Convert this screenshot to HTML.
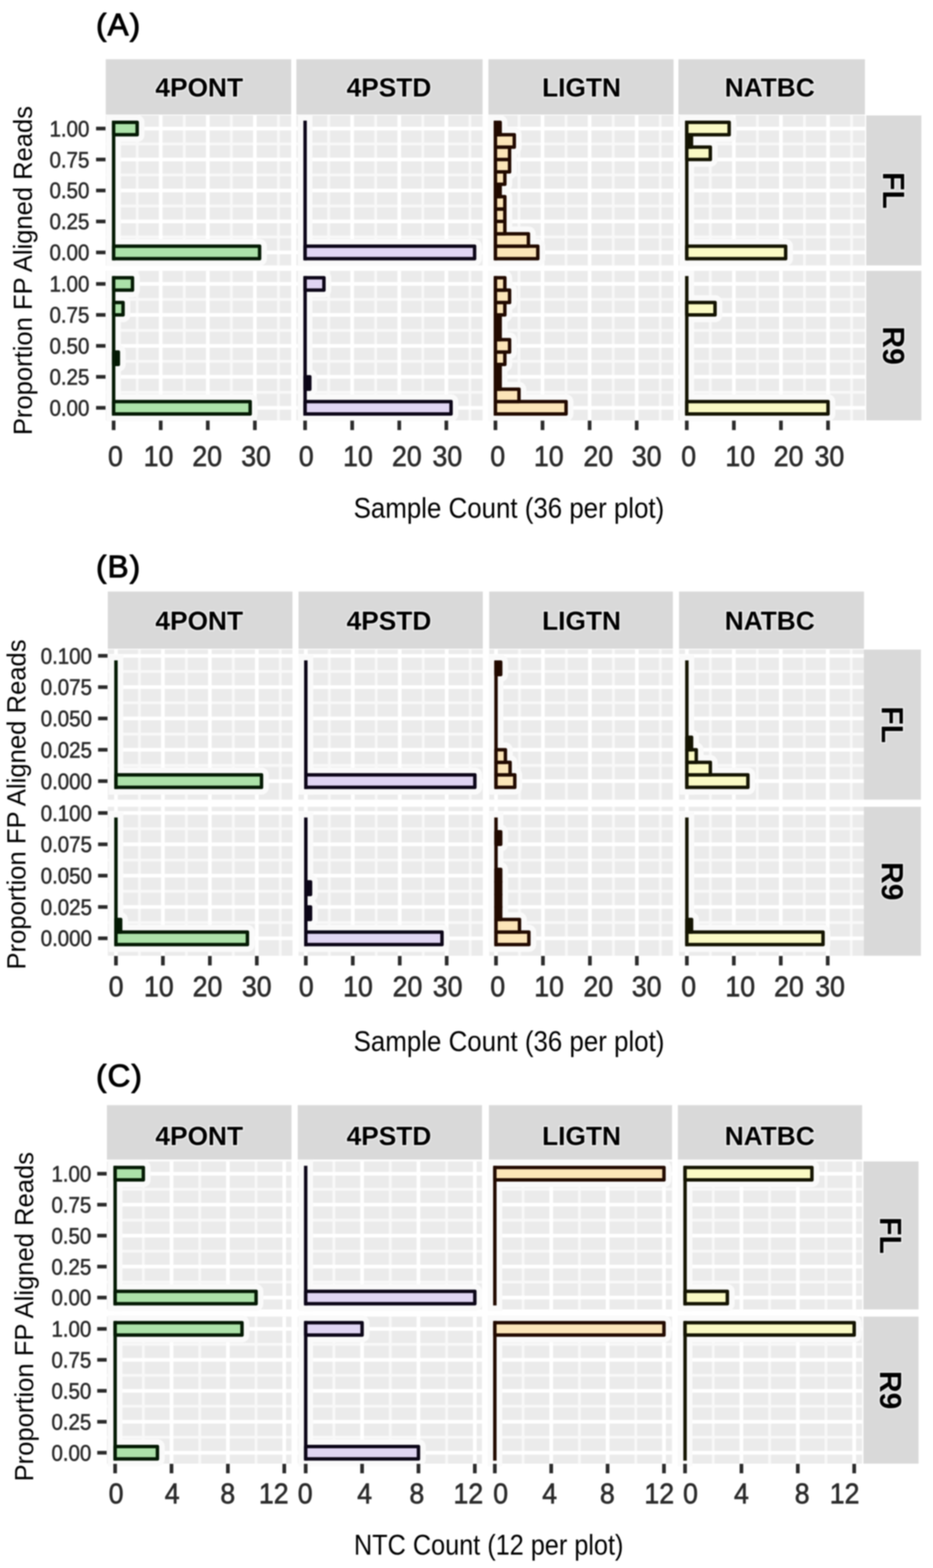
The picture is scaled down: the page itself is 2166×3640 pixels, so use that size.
<!DOCTYPE html>
<html><head><meta charset="utf-8"><title>FP aligned reads histograms</title>
<style>html,body{margin:0;padding:0;background:#fff;}svg{display:block;filter:blur(1.4px);}</style></head>
<body>
<svg width="2166" height="3640" viewBox="0 0 2166 3640">
<rect width="2166" height="3640" fill="#fff"/>
<text x="223" y="82" font-family="'Liberation Sans', Arial, Helvetica, sans-serif" font-size="73" stroke="#000" stroke-width="2.2" stroke-linejoin="round" letter-spacing="2.5">(A)</text>
<rect x="245.5" y="137.5" width="430.5" height="128.5" fill="#D9D9D9"/>
<text x="462.5" y="224.34" text-anchor="middle" font-family="'Liberation Sans', Arial, Helvetica, sans-serif" font-weight="bold" font-size="61" stroke="#E9E9E9" stroke-width="7" stroke-linejoin="round" paint-order="stroke">4PONT</text>
<rect x="688" y="137.5" width="432.4" height="128.5" fill="#D9D9D9"/>
<text x="903" y="224.34" text-anchor="middle" font-family="'Liberation Sans', Arial, Helvetica, sans-serif" font-weight="bold" font-size="61" stroke="#E9E9E9" stroke-width="7" stroke-linejoin="round" paint-order="stroke">4PSTD</text>
<rect x="1133.9" y="137.5" width="429.7" height="128.5" fill="#D9D9D9"/>
<text x="1350" y="224.34" text-anchor="middle" font-family="'Liberation Sans', Arial, Helvetica, sans-serif" font-weight="bold" font-size="61" stroke="#E9E9E9" stroke-width="7" stroke-linejoin="round" paint-order="stroke">LIGTN</text>
<rect x="1575" y="137.5" width="433" height="128.5" fill="#D9D9D9"/>
<text x="1787" y="224.34" text-anchor="middle" font-family="'Liberation Sans', Arial, Helvetica, sans-serif" font-weight="bold" font-size="61" stroke="#E9E9E9" stroke-width="7" stroke-linejoin="round" paint-order="stroke">NATBC</text>
<rect x="245.5" y="268" width="430.5" height="348.2" fill="#EBEBEB"/>
<path d="M245.5 550.05H676" stroke="#F8F8F8" stroke-width="6.5"/>
<path d="M245.5 478.15H676" stroke="#F8F8F8" stroke-width="6.5"/>
<path d="M245.5 406.25H676" stroke="#F8F8F8" stroke-width="6.5"/>
<path d="M245.5 334.35H676" stroke="#F8F8F8" stroke-width="6.5"/>
<path d="M318.45 268V616.2" stroke="#F8F8F8" stroke-width="6.5"/>
<path d="M427.75 268V616.2" stroke="#F8F8F8" stroke-width="6.5"/>
<path d="M537.05 268V616.2" stroke="#F8F8F8" stroke-width="6.5"/>
<path d="M646.35 268V616.2" stroke="#F8F8F8" stroke-width="6.5"/>
<path d="M245.5 586H676" stroke="#fff" stroke-width="8.5"/>
<path d="M245.5 514.1H676" stroke="#fff" stroke-width="8.5"/>
<path d="M245.5 442.2H676" stroke="#fff" stroke-width="8.5"/>
<path d="M245.5 370.3H676" stroke="#fff" stroke-width="8.5"/>
<path d="M245.5 298.4H676" stroke="#fff" stroke-width="8.5"/>
<path d="M263.8 268V616.2" stroke="#fff" stroke-width="8.5"/>
<path d="M373.1 268V616.2" stroke="#fff" stroke-width="8.5"/>
<path d="M482.4 268V616.2" stroke="#fff" stroke-width="8.5"/>
<path d="M591.7 268V616.2" stroke="#fff" stroke-width="8.5"/>
<path d="M263.8 284.02V600.38" stroke="#FAFAFA" stroke-width="34" stroke-linecap="square"/>
<rect x="263.8" y="571.62" width="338.83" height="28.76" fill="none" stroke="#FAFAFA" stroke-width="34" stroke-linejoin="round"/>
<rect x="263.8" y="284.02" width="54.65" height="28.76" fill="none" stroke="#FAFAFA" stroke-width="34" stroke-linejoin="round"/>
<path d="M263.8 284.02V600.38" stroke="#041a04" stroke-width="8" stroke-linecap="square"/>
<rect x="263.8" y="571.62" width="338.83" height="28.76" fill="#ACE2A9" stroke="#041a04" stroke-width="8" stroke-linejoin="round"/>
<rect x="263.8" y="284.02" width="54.65" height="28.76" fill="#ACE2A9" stroke="#041a04" stroke-width="8" stroke-linejoin="round"/>
<rect x="688" y="268" width="432.4" height="348.2" fill="#EBEBEB"/>
<path d="M688 550.05H1120.4" stroke="#F8F8F8" stroke-width="6.5"/>
<path d="M688 478.15H1120.4" stroke="#F8F8F8" stroke-width="6.5"/>
<path d="M688 406.25H1120.4" stroke="#F8F8F8" stroke-width="6.5"/>
<path d="M688 334.35H1120.4" stroke="#F8F8F8" stroke-width="6.5"/>
<path d="M762.95 268V616.2" stroke="#F8F8F8" stroke-width="6.5"/>
<path d="M872.25 268V616.2" stroke="#F8F8F8" stroke-width="6.5"/>
<path d="M981.55 268V616.2" stroke="#F8F8F8" stroke-width="6.5"/>
<path d="M1090.85 268V616.2" stroke="#F8F8F8" stroke-width="6.5"/>
<path d="M688 586H1120.4" stroke="#fff" stroke-width="8.5"/>
<path d="M688 514.1H1120.4" stroke="#fff" stroke-width="8.5"/>
<path d="M688 442.2H1120.4" stroke="#fff" stroke-width="8.5"/>
<path d="M688 370.3H1120.4" stroke="#fff" stroke-width="8.5"/>
<path d="M688 298.4H1120.4" stroke="#fff" stroke-width="8.5"/>
<path d="M708.3 268V616.2" stroke="#fff" stroke-width="8.5"/>
<path d="M817.6 268V616.2" stroke="#fff" stroke-width="8.5"/>
<path d="M926.9 268V616.2" stroke="#fff" stroke-width="8.5"/>
<path d="M1036.2 268V616.2" stroke="#fff" stroke-width="8.5"/>
<path d="M708.3 284.02V600.38" stroke="#FAFAFA" stroke-width="34" stroke-linecap="square"/>
<rect x="708.3" y="571.62" width="393.48" height="28.76" fill="none" stroke="#FAFAFA" stroke-width="34" stroke-linejoin="round"/>
<path d="M708.3 284.02V600.38" stroke="#0c0618" stroke-width="8" stroke-linecap="square"/>
<rect x="708.3" y="571.62" width="393.48" height="28.76" fill="#E0D5F3" stroke="#0c0618" stroke-width="8" stroke-linejoin="round"/>
<rect x="1133.9" y="268" width="429.7" height="348.2" fill="#EBEBEB"/>
<path d="M1133.9 550.05H1563.6" stroke="#F8F8F8" stroke-width="6.5"/>
<path d="M1133.9 478.15H1563.6" stroke="#F8F8F8" stroke-width="6.5"/>
<path d="M1133.9 406.25H1563.6" stroke="#F8F8F8" stroke-width="6.5"/>
<path d="M1133.9 334.35H1563.6" stroke="#F8F8F8" stroke-width="6.5"/>
<path d="M1204.85 268V616.2" stroke="#F8F8F8" stroke-width="6.5"/>
<path d="M1314.15 268V616.2" stroke="#F8F8F8" stroke-width="6.5"/>
<path d="M1423.45 268V616.2" stroke="#F8F8F8" stroke-width="6.5"/>
<path d="M1532.75 268V616.2" stroke="#F8F8F8" stroke-width="6.5"/>
<path d="M1133.9 586H1563.6" stroke="#fff" stroke-width="8.5"/>
<path d="M1133.9 514.1H1563.6" stroke="#fff" stroke-width="8.5"/>
<path d="M1133.9 442.2H1563.6" stroke="#fff" stroke-width="8.5"/>
<path d="M1133.9 370.3H1563.6" stroke="#fff" stroke-width="8.5"/>
<path d="M1133.9 298.4H1563.6" stroke="#fff" stroke-width="8.5"/>
<path d="M1150.2 268V616.2" stroke="#fff" stroke-width="8.5"/>
<path d="M1259.5 268V616.2" stroke="#fff" stroke-width="8.5"/>
<path d="M1368.8 268V616.2" stroke="#fff" stroke-width="8.5"/>
<path d="M1478.1 268V616.2" stroke="#fff" stroke-width="8.5"/>
<path d="M1150.2 284.02V600.38" stroke="#FAFAFA" stroke-width="34" stroke-linecap="square"/>
<rect x="1150.2" y="571.62" width="98.37" height="28.76" fill="none" stroke="#FAFAFA" stroke-width="34" stroke-linejoin="round"/>
<rect x="1150.2" y="542.86" width="76.51" height="28.76" fill="none" stroke="#FAFAFA" stroke-width="34" stroke-linejoin="round"/>
<rect x="1150.2" y="514.1" width="21.86" height="28.76" fill="none" stroke="#FAFAFA" stroke-width="34" stroke-linejoin="round"/>
<rect x="1150.2" y="485.34" width="21.86" height="28.76" fill="none" stroke="#FAFAFA" stroke-width="34" stroke-linejoin="round"/>
<rect x="1150.2" y="456.58" width="21.86" height="28.76" fill="none" stroke="#FAFAFA" stroke-width="34" stroke-linejoin="round"/>
<rect x="1150.2" y="427.82" width="10.93" height="28.76" fill="none" stroke="#FAFAFA" stroke-width="34" stroke-linejoin="round"/>
<rect x="1150.2" y="399.06" width="21.86" height="28.76" fill="none" stroke="#FAFAFA" stroke-width="34" stroke-linejoin="round"/>
<rect x="1150.2" y="370.3" width="32.79" height="28.76" fill="none" stroke="#FAFAFA" stroke-width="34" stroke-linejoin="round"/>
<rect x="1150.2" y="341.54" width="32.79" height="28.76" fill="none" stroke="#FAFAFA" stroke-width="34" stroke-linejoin="round"/>
<rect x="1150.2" y="312.78" width="43.72" height="28.76" fill="none" stroke="#FAFAFA" stroke-width="34" stroke-linejoin="round"/>
<rect x="1150.2" y="284.02" width="10.93" height="28.76" fill="none" stroke="#FAFAFA" stroke-width="34" stroke-linejoin="round"/>
<path d="M1150.2 284.02V600.38" stroke="#220a00" stroke-width="8" stroke-linecap="square"/>
<rect x="1150.2" y="571.62" width="98.37" height="28.76" fill="#FCE5B8" stroke="#220a00" stroke-width="8" stroke-linejoin="round"/>
<rect x="1150.2" y="542.86" width="76.51" height="28.76" fill="#FCE5B8" stroke="#220a00" stroke-width="8" stroke-linejoin="round"/>
<rect x="1150.2" y="514.1" width="21.86" height="28.76" fill="#FCE5B8" stroke="#220a00" stroke-width="8" stroke-linejoin="round"/>
<rect x="1150.2" y="485.34" width="21.86" height="28.76" fill="#FCE5B8" stroke="#220a00" stroke-width="8" stroke-linejoin="round"/>
<rect x="1150.2" y="456.58" width="21.86" height="28.76" fill="#FCE5B8" stroke="#220a00" stroke-width="8" stroke-linejoin="round"/>
<rect x="1150.2" y="427.82" width="10.93" height="28.76" fill="#220a00" stroke="#220a00" stroke-width="8" stroke-linejoin="round"/>
<rect x="1150.2" y="399.06" width="21.86" height="28.76" fill="#FCE5B8" stroke="#220a00" stroke-width="8" stroke-linejoin="round"/>
<rect x="1150.2" y="370.3" width="32.79" height="28.76" fill="#FCE5B8" stroke="#220a00" stroke-width="8" stroke-linejoin="round"/>
<rect x="1150.2" y="341.54" width="32.79" height="28.76" fill="#FCE5B8" stroke="#220a00" stroke-width="8" stroke-linejoin="round"/>
<rect x="1150.2" y="312.78" width="43.72" height="28.76" fill="#FCE5B8" stroke="#220a00" stroke-width="8" stroke-linejoin="round"/>
<rect x="1150.2" y="284.02" width="10.93" height="28.76" fill="#220a00" stroke="#220a00" stroke-width="8" stroke-linejoin="round"/>
<rect x="1575" y="268" width="433" height="348.2" fill="#EBEBEB"/>
<path d="M1575 550.05H2008" stroke="#F8F8F8" stroke-width="6.5"/>
<path d="M1575 478.15H2008" stroke="#F8F8F8" stroke-width="6.5"/>
<path d="M1575 406.25H2008" stroke="#F8F8F8" stroke-width="6.5"/>
<path d="M1575 334.35H2008" stroke="#F8F8F8" stroke-width="6.5"/>
<path d="M1649.05 268V616.2" stroke="#F8F8F8" stroke-width="6.5"/>
<path d="M1758.35 268V616.2" stroke="#F8F8F8" stroke-width="6.5"/>
<path d="M1867.65 268V616.2" stroke="#F8F8F8" stroke-width="6.5"/>
<path d="M1976.95 268V616.2" stroke="#F8F8F8" stroke-width="6.5"/>
<path d="M1575 586H2008" stroke="#fff" stroke-width="8.5"/>
<path d="M1575 514.1H2008" stroke="#fff" stroke-width="8.5"/>
<path d="M1575 442.2H2008" stroke="#fff" stroke-width="8.5"/>
<path d="M1575 370.3H2008" stroke="#fff" stroke-width="8.5"/>
<path d="M1575 298.4H2008" stroke="#fff" stroke-width="8.5"/>
<path d="M1594.4 268V616.2" stroke="#fff" stroke-width="8.5"/>
<path d="M1703.7 268V616.2" stroke="#fff" stroke-width="8.5"/>
<path d="M1813 268V616.2" stroke="#fff" stroke-width="8.5"/>
<path d="M1922.3 268V616.2" stroke="#fff" stroke-width="8.5"/>
<path d="M1594.4 284.02V600.38" stroke="#FAFAFA" stroke-width="34" stroke-linecap="square"/>
<rect x="1594.4" y="571.62" width="229.53" height="28.76" fill="none" stroke="#FAFAFA" stroke-width="34" stroke-linejoin="round"/>
<rect x="1594.4" y="341.54" width="54.65" height="28.76" fill="none" stroke="#FAFAFA" stroke-width="34" stroke-linejoin="round"/>
<rect x="1594.4" y="312.78" width="10.93" height="28.76" fill="none" stroke="#FAFAFA" stroke-width="34" stroke-linejoin="round"/>
<rect x="1594.4" y="284.02" width="98.37" height="28.76" fill="none" stroke="#FAFAFA" stroke-width="34" stroke-linejoin="round"/>
<path d="M1594.4 284.02V600.38" stroke="#141402" stroke-width="8" stroke-linecap="square"/>
<rect x="1594.4" y="571.62" width="229.53" height="28.76" fill="#FAFAC4" stroke="#141402" stroke-width="8" stroke-linejoin="round"/>
<rect x="1594.4" y="341.54" width="54.65" height="28.76" fill="#FAFAC4" stroke="#141402" stroke-width="8" stroke-linejoin="round"/>
<rect x="1594.4" y="312.78" width="10.93" height="28.76" fill="#141402" stroke="#141402" stroke-width="8" stroke-linejoin="round"/>
<rect x="1594.4" y="284.02" width="98.37" height="28.76" fill="#FAFAC4" stroke="#141402" stroke-width="8" stroke-linejoin="round"/>
<rect x="2011" y="268" width="128" height="348.2" fill="#D9D9D9"/>
<text transform="translate(2075 442.1) rotate(90)" x="0" y="25.06" text-anchor="middle" font-family="'Liberation Sans', Arial, Helvetica, sans-serif" font-weight="bold" font-size="70" stroke="#E9E9E9" stroke-width="7" stroke-linejoin="round" paint-order="stroke">FL</text>
<path d="M223 586H245" stroke="#2a2a2a" stroke-width="8.5"/>
<text x="207.5" y="604.2" text-anchor="end" font-family="'Liberation Sans', Arial, Helvetica, sans-serif" font-size="52" fill="#2b2b2b" stroke="#2b2b2b" stroke-width="1.2" textLength="92.61" lengthAdjust="spacingAndGlyphs">0.00</text>
<path d="M223 514.1H245" stroke="#2a2a2a" stroke-width="8.5"/>
<text x="207.5" y="532.3" text-anchor="end" font-family="'Liberation Sans', Arial, Helvetica, sans-serif" font-size="52" fill="#2b2b2b" stroke="#2b2b2b" stroke-width="1.2" textLength="92.61" lengthAdjust="spacingAndGlyphs">0.25</text>
<path d="M223 442.2H245" stroke="#2a2a2a" stroke-width="8.5"/>
<text x="207.5" y="460.4" text-anchor="end" font-family="'Liberation Sans', Arial, Helvetica, sans-serif" font-size="52" fill="#2b2b2b" stroke="#2b2b2b" stroke-width="1.2" textLength="92.61" lengthAdjust="spacingAndGlyphs">0.50</text>
<path d="M223 370.3H245" stroke="#2a2a2a" stroke-width="8.5"/>
<text x="207.5" y="388.5" text-anchor="end" font-family="'Liberation Sans', Arial, Helvetica, sans-serif" font-size="52" fill="#2b2b2b" stroke="#2b2b2b" stroke-width="1.2" textLength="92.61" lengthAdjust="spacingAndGlyphs">0.75</text>
<path d="M223 298.4H245" stroke="#2a2a2a" stroke-width="8.5"/>
<text x="207.5" y="316.6" text-anchor="end" font-family="'Liberation Sans', Arial, Helvetica, sans-serif" font-size="52" fill="#2b2b2b" stroke="#2b2b2b" stroke-width="1.2" textLength="92.61" lengthAdjust="spacingAndGlyphs">1.00</text>
<rect x="245.5" y="628.7" width="430.5" height="347.2" fill="#EBEBEB"/>
<path d="M245.5 910.75H676" stroke="#F8F8F8" stroke-width="6.5"/>
<path d="M245.5 838.85H676" stroke="#F8F8F8" stroke-width="6.5"/>
<path d="M245.5 766.95H676" stroke="#F8F8F8" stroke-width="6.5"/>
<path d="M245.5 695.05H676" stroke="#F8F8F8" stroke-width="6.5"/>
<path d="M318.45 628.7V975.9" stroke="#F8F8F8" stroke-width="6.5"/>
<path d="M427.75 628.7V975.9" stroke="#F8F8F8" stroke-width="6.5"/>
<path d="M537.05 628.7V975.9" stroke="#F8F8F8" stroke-width="6.5"/>
<path d="M646.35 628.7V975.9" stroke="#F8F8F8" stroke-width="6.5"/>
<path d="M245.5 946.7H676" stroke="#fff" stroke-width="8.5"/>
<path d="M245.5 874.8H676" stroke="#fff" stroke-width="8.5"/>
<path d="M245.5 802.9H676" stroke="#fff" stroke-width="8.5"/>
<path d="M245.5 731H676" stroke="#fff" stroke-width="8.5"/>
<path d="M245.5 659.1H676" stroke="#fff" stroke-width="8.5"/>
<path d="M263.8 628.7V975.9" stroke="#fff" stroke-width="8.5"/>
<path d="M373.1 628.7V975.9" stroke="#fff" stroke-width="8.5"/>
<path d="M482.4 628.7V975.9" stroke="#fff" stroke-width="8.5"/>
<path d="M591.7 628.7V975.9" stroke="#fff" stroke-width="8.5"/>
<path d="M263.8 644.72V961.08" stroke="#FAFAFA" stroke-width="34" stroke-linecap="square"/>
<rect x="263.8" y="932.32" width="316.97" height="28.76" fill="none" stroke="#FAFAFA" stroke-width="34" stroke-linejoin="round"/>
<rect x="263.8" y="817.28" width="10.93" height="28.76" fill="none" stroke="#FAFAFA" stroke-width="34" stroke-linejoin="round"/>
<rect x="263.8" y="702.24" width="21.86" height="28.76" fill="none" stroke="#FAFAFA" stroke-width="34" stroke-linejoin="round"/>
<rect x="263.8" y="644.72" width="43.72" height="28.76" fill="none" stroke="#FAFAFA" stroke-width="34" stroke-linejoin="round"/>
<path d="M263.8 644.72V961.08" stroke="#041a04" stroke-width="8" stroke-linecap="square"/>
<rect x="263.8" y="932.32" width="316.97" height="28.76" fill="#ACE2A9" stroke="#041a04" stroke-width="8" stroke-linejoin="round"/>
<rect x="263.8" y="817.28" width="10.93" height="28.76" fill="#041a04" stroke="#041a04" stroke-width="8" stroke-linejoin="round"/>
<rect x="263.8" y="702.24" width="21.86" height="28.76" fill="#ACE2A9" stroke="#041a04" stroke-width="8" stroke-linejoin="round"/>
<rect x="263.8" y="644.72" width="43.72" height="28.76" fill="#ACE2A9" stroke="#041a04" stroke-width="8" stroke-linejoin="round"/>
<rect x="688" y="628.7" width="432.4" height="347.2" fill="#EBEBEB"/>
<path d="M688 910.75H1120.4" stroke="#F8F8F8" stroke-width="6.5"/>
<path d="M688 838.85H1120.4" stroke="#F8F8F8" stroke-width="6.5"/>
<path d="M688 766.95H1120.4" stroke="#F8F8F8" stroke-width="6.5"/>
<path d="M688 695.05H1120.4" stroke="#F8F8F8" stroke-width="6.5"/>
<path d="M762.95 628.7V975.9" stroke="#F8F8F8" stroke-width="6.5"/>
<path d="M872.25 628.7V975.9" stroke="#F8F8F8" stroke-width="6.5"/>
<path d="M981.55 628.7V975.9" stroke="#F8F8F8" stroke-width="6.5"/>
<path d="M1090.85 628.7V975.9" stroke="#F8F8F8" stroke-width="6.5"/>
<path d="M688 946.7H1120.4" stroke="#fff" stroke-width="8.5"/>
<path d="M688 874.8H1120.4" stroke="#fff" stroke-width="8.5"/>
<path d="M688 802.9H1120.4" stroke="#fff" stroke-width="8.5"/>
<path d="M688 731H1120.4" stroke="#fff" stroke-width="8.5"/>
<path d="M688 659.1H1120.4" stroke="#fff" stroke-width="8.5"/>
<path d="M708.3 628.7V975.9" stroke="#fff" stroke-width="8.5"/>
<path d="M817.6 628.7V975.9" stroke="#fff" stroke-width="8.5"/>
<path d="M926.9 628.7V975.9" stroke="#fff" stroke-width="8.5"/>
<path d="M1036.2 628.7V975.9" stroke="#fff" stroke-width="8.5"/>
<path d="M708.3 644.72V961.08" stroke="#FAFAFA" stroke-width="34" stroke-linecap="square"/>
<rect x="708.3" y="932.32" width="338.83" height="28.76" fill="none" stroke="#FAFAFA" stroke-width="34" stroke-linejoin="round"/>
<rect x="708.3" y="874.8" width="10.93" height="28.76" fill="none" stroke="#FAFAFA" stroke-width="34" stroke-linejoin="round"/>
<rect x="708.3" y="644.72" width="43.72" height="28.76" fill="none" stroke="#FAFAFA" stroke-width="34" stroke-linejoin="round"/>
<path d="M708.3 644.72V961.08" stroke="#0c0618" stroke-width="8" stroke-linecap="square"/>
<rect x="708.3" y="932.32" width="338.83" height="28.76" fill="#E0D5F3" stroke="#0c0618" stroke-width="8" stroke-linejoin="round"/>
<rect x="708.3" y="874.8" width="10.93" height="28.76" fill="#0c0618" stroke="#0c0618" stroke-width="8" stroke-linejoin="round"/>
<rect x="708.3" y="644.72" width="43.72" height="28.76" fill="#E0D5F3" stroke="#0c0618" stroke-width="8" stroke-linejoin="round"/>
<rect x="1133.9" y="628.7" width="429.7" height="347.2" fill="#EBEBEB"/>
<path d="M1133.9 910.75H1563.6" stroke="#F8F8F8" stroke-width="6.5"/>
<path d="M1133.9 838.85H1563.6" stroke="#F8F8F8" stroke-width="6.5"/>
<path d="M1133.9 766.95H1563.6" stroke="#F8F8F8" stroke-width="6.5"/>
<path d="M1133.9 695.05H1563.6" stroke="#F8F8F8" stroke-width="6.5"/>
<path d="M1204.85 628.7V975.9" stroke="#F8F8F8" stroke-width="6.5"/>
<path d="M1314.15 628.7V975.9" stroke="#F8F8F8" stroke-width="6.5"/>
<path d="M1423.45 628.7V975.9" stroke="#F8F8F8" stroke-width="6.5"/>
<path d="M1532.75 628.7V975.9" stroke="#F8F8F8" stroke-width="6.5"/>
<path d="M1133.9 946.7H1563.6" stroke="#fff" stroke-width="8.5"/>
<path d="M1133.9 874.8H1563.6" stroke="#fff" stroke-width="8.5"/>
<path d="M1133.9 802.9H1563.6" stroke="#fff" stroke-width="8.5"/>
<path d="M1133.9 731H1563.6" stroke="#fff" stroke-width="8.5"/>
<path d="M1133.9 659.1H1563.6" stroke="#fff" stroke-width="8.5"/>
<path d="M1150.2 628.7V975.9" stroke="#fff" stroke-width="8.5"/>
<path d="M1259.5 628.7V975.9" stroke="#fff" stroke-width="8.5"/>
<path d="M1368.8 628.7V975.9" stroke="#fff" stroke-width="8.5"/>
<path d="M1478.1 628.7V975.9" stroke="#fff" stroke-width="8.5"/>
<path d="M1150.2 644.72V961.08" stroke="#FAFAFA" stroke-width="34" stroke-linecap="square"/>
<rect x="1150.2" y="932.32" width="163.95" height="28.76" fill="none" stroke="#FAFAFA" stroke-width="34" stroke-linejoin="round"/>
<rect x="1150.2" y="903.56" width="54.65" height="28.76" fill="none" stroke="#FAFAFA" stroke-width="34" stroke-linejoin="round"/>
<rect x="1150.2" y="874.8" width="10.93" height="28.76" fill="none" stroke="#FAFAFA" stroke-width="34" stroke-linejoin="round"/>
<rect x="1150.2" y="846.04" width="10.93" height="28.76" fill="none" stroke="#FAFAFA" stroke-width="34" stroke-linejoin="round"/>
<rect x="1150.2" y="817.28" width="21.86" height="28.76" fill="none" stroke="#FAFAFA" stroke-width="34" stroke-linejoin="round"/>
<rect x="1150.2" y="788.52" width="32.79" height="28.76" fill="none" stroke="#FAFAFA" stroke-width="34" stroke-linejoin="round"/>
<rect x="1150.2" y="759.76" width="10.93" height="28.76" fill="none" stroke="#FAFAFA" stroke-width="34" stroke-linejoin="round"/>
<rect x="1150.2" y="731" width="10.93" height="28.76" fill="none" stroke="#FAFAFA" stroke-width="34" stroke-linejoin="round"/>
<rect x="1150.2" y="702.24" width="21.86" height="28.76" fill="none" stroke="#FAFAFA" stroke-width="34" stroke-linejoin="round"/>
<rect x="1150.2" y="673.48" width="32.79" height="28.76" fill="none" stroke="#FAFAFA" stroke-width="34" stroke-linejoin="round"/>
<rect x="1150.2" y="644.72" width="21.86" height="28.76" fill="none" stroke="#FAFAFA" stroke-width="34" stroke-linejoin="round"/>
<path d="M1150.2 644.72V961.08" stroke="#220a00" stroke-width="8" stroke-linecap="square"/>
<rect x="1150.2" y="932.32" width="163.95" height="28.76" fill="#FCE5B8" stroke="#220a00" stroke-width="8" stroke-linejoin="round"/>
<rect x="1150.2" y="903.56" width="54.65" height="28.76" fill="#FCE5B8" stroke="#220a00" stroke-width="8" stroke-linejoin="round"/>
<rect x="1150.2" y="874.8" width="10.93" height="28.76" fill="#220a00" stroke="#220a00" stroke-width="8" stroke-linejoin="round"/>
<rect x="1150.2" y="846.04" width="10.93" height="28.76" fill="#220a00" stroke="#220a00" stroke-width="8" stroke-linejoin="round"/>
<rect x="1150.2" y="817.28" width="21.86" height="28.76" fill="#FCE5B8" stroke="#220a00" stroke-width="8" stroke-linejoin="round"/>
<rect x="1150.2" y="788.52" width="32.79" height="28.76" fill="#FCE5B8" stroke="#220a00" stroke-width="8" stroke-linejoin="round"/>
<rect x="1150.2" y="759.76" width="10.93" height="28.76" fill="#220a00" stroke="#220a00" stroke-width="8" stroke-linejoin="round"/>
<rect x="1150.2" y="731" width="10.93" height="28.76" fill="#220a00" stroke="#220a00" stroke-width="8" stroke-linejoin="round"/>
<rect x="1150.2" y="702.24" width="21.86" height="28.76" fill="#FCE5B8" stroke="#220a00" stroke-width="8" stroke-linejoin="round"/>
<rect x="1150.2" y="673.48" width="32.79" height="28.76" fill="#FCE5B8" stroke="#220a00" stroke-width="8" stroke-linejoin="round"/>
<rect x="1150.2" y="644.72" width="21.86" height="28.76" fill="#FCE5B8" stroke="#220a00" stroke-width="8" stroke-linejoin="round"/>
<rect x="1575" y="628.7" width="433" height="347.2" fill="#EBEBEB"/>
<path d="M1575 910.75H2008" stroke="#F8F8F8" stroke-width="6.5"/>
<path d="M1575 838.85H2008" stroke="#F8F8F8" stroke-width="6.5"/>
<path d="M1575 766.95H2008" stroke="#F8F8F8" stroke-width="6.5"/>
<path d="M1575 695.05H2008" stroke="#F8F8F8" stroke-width="6.5"/>
<path d="M1649.05 628.7V975.9" stroke="#F8F8F8" stroke-width="6.5"/>
<path d="M1758.35 628.7V975.9" stroke="#F8F8F8" stroke-width="6.5"/>
<path d="M1867.65 628.7V975.9" stroke="#F8F8F8" stroke-width="6.5"/>
<path d="M1976.95 628.7V975.9" stroke="#F8F8F8" stroke-width="6.5"/>
<path d="M1575 946.7H2008" stroke="#fff" stroke-width="8.5"/>
<path d="M1575 874.8H2008" stroke="#fff" stroke-width="8.5"/>
<path d="M1575 802.9H2008" stroke="#fff" stroke-width="8.5"/>
<path d="M1575 731H2008" stroke="#fff" stroke-width="8.5"/>
<path d="M1575 659.1H2008" stroke="#fff" stroke-width="8.5"/>
<path d="M1594.4 628.7V975.9" stroke="#fff" stroke-width="8.5"/>
<path d="M1703.7 628.7V975.9" stroke="#fff" stroke-width="8.5"/>
<path d="M1813 628.7V975.9" stroke="#fff" stroke-width="8.5"/>
<path d="M1922.3 628.7V975.9" stroke="#fff" stroke-width="8.5"/>
<path d="M1594.4 644.72V961.08" stroke="#FAFAFA" stroke-width="34" stroke-linecap="square"/>
<rect x="1594.4" y="932.32" width="327.9" height="28.76" fill="none" stroke="#FAFAFA" stroke-width="34" stroke-linejoin="round"/>
<rect x="1594.4" y="702.24" width="65.58" height="28.76" fill="none" stroke="#FAFAFA" stroke-width="34" stroke-linejoin="round"/>
<path d="M1594.4 644.72V961.08" stroke="#141402" stroke-width="8" stroke-linecap="square"/>
<rect x="1594.4" y="932.32" width="327.9" height="28.76" fill="#FAFAC4" stroke="#141402" stroke-width="8" stroke-linejoin="round"/>
<rect x="1594.4" y="702.24" width="65.58" height="28.76" fill="#FAFAC4" stroke="#141402" stroke-width="8" stroke-linejoin="round"/>
<rect x="2011" y="628.7" width="128" height="347.2" fill="#D9D9D9"/>
<text transform="translate(2075 802.3) rotate(90)" x="0" y="25.06" text-anchor="middle" font-family="'Liberation Sans', Arial, Helvetica, sans-serif" font-weight="bold" font-size="70" stroke="#E9E9E9" stroke-width="7" stroke-linejoin="round" paint-order="stroke">R9</text>
<path d="M223 946.7H245" stroke="#2a2a2a" stroke-width="8.5"/>
<text x="207.5" y="964.9" text-anchor="end" font-family="'Liberation Sans', Arial, Helvetica, sans-serif" font-size="52" fill="#2b2b2b" stroke="#2b2b2b" stroke-width="1.2" textLength="92.61" lengthAdjust="spacingAndGlyphs">0.00</text>
<path d="M223 874.8H245" stroke="#2a2a2a" stroke-width="8.5"/>
<text x="207.5" y="893" text-anchor="end" font-family="'Liberation Sans', Arial, Helvetica, sans-serif" font-size="52" fill="#2b2b2b" stroke="#2b2b2b" stroke-width="1.2" textLength="92.61" lengthAdjust="spacingAndGlyphs">0.25</text>
<path d="M223 802.9H245" stroke="#2a2a2a" stroke-width="8.5"/>
<text x="207.5" y="821.1" text-anchor="end" font-family="'Liberation Sans', Arial, Helvetica, sans-serif" font-size="52" fill="#2b2b2b" stroke="#2b2b2b" stroke-width="1.2" textLength="92.61" lengthAdjust="spacingAndGlyphs">0.50</text>
<path d="M223 731H245" stroke="#2a2a2a" stroke-width="8.5"/>
<text x="207.5" y="749.2" text-anchor="end" font-family="'Liberation Sans', Arial, Helvetica, sans-serif" font-size="52" fill="#2b2b2b" stroke="#2b2b2b" stroke-width="1.2" textLength="92.61" lengthAdjust="spacingAndGlyphs">0.75</text>
<path d="M223 659.1H245" stroke="#2a2a2a" stroke-width="8.5"/>
<text x="207.5" y="677.3" text-anchor="end" font-family="'Liberation Sans', Arial, Helvetica, sans-serif" font-size="52" fill="#2b2b2b" stroke="#2b2b2b" stroke-width="1.2" textLength="92.61" lengthAdjust="spacingAndGlyphs">1.00</text>
<path d="M263.8 976.4V998.4" stroke="#2a2a2a" stroke-width="8.5"/>
<text x="267.9" y="1081.5" text-anchor="middle" font-family="'Liberation Sans', Arial, Helvetica, sans-serif" font-size="66" fill="#2b2b2b" stroke="#2b2b2b" stroke-width="1.4" textLength="34.5" lengthAdjust="spacingAndGlyphs">0</text>
<path d="M373.1 976.4V998.4" stroke="#2a2a2a" stroke-width="8.5"/>
<text x="368" y="1081.5" text-anchor="middle" font-family="'Liberation Sans', Arial, Helvetica, sans-serif" font-size="66" fill="#2b2b2b" stroke="#2b2b2b" stroke-width="1.4" textLength="69.01" lengthAdjust="spacingAndGlyphs">10</text>
<path d="M482.4 976.4V998.4" stroke="#2a2a2a" stroke-width="8.5"/>
<text x="480.9" y="1081.5" text-anchor="middle" font-family="'Liberation Sans', Arial, Helvetica, sans-serif" font-size="66" fill="#2b2b2b" stroke="#2b2b2b" stroke-width="1.4" textLength="69.01" lengthAdjust="spacingAndGlyphs">20</text>
<path d="M591.7 976.4V998.4" stroke="#2a2a2a" stroke-width="8.5"/>
<text x="594.6" y="1081.5" text-anchor="middle" font-family="'Liberation Sans', Arial, Helvetica, sans-serif" font-size="66" fill="#2b2b2b" stroke="#2b2b2b" stroke-width="1.4" textLength="69.01" lengthAdjust="spacingAndGlyphs">30</text>
<path d="M708.3 976.4V998.4" stroke="#2a2a2a" stroke-width="8.5"/>
<text x="711.1" y="1081.5" text-anchor="middle" font-family="'Liberation Sans', Arial, Helvetica, sans-serif" font-size="66" fill="#2b2b2b" stroke="#2b2b2b" stroke-width="1.4" textLength="34.5" lengthAdjust="spacingAndGlyphs">0</text>
<path d="M817.6 976.4V998.4" stroke="#2a2a2a" stroke-width="8.5"/>
<text x="830.9" y="1081.5" text-anchor="middle" font-family="'Liberation Sans', Arial, Helvetica, sans-serif" font-size="66" fill="#2b2b2b" stroke="#2b2b2b" stroke-width="1.4" textLength="69.01" lengthAdjust="spacingAndGlyphs">10</text>
<path d="M926.9 976.4V998.4" stroke="#2a2a2a" stroke-width="8.5"/>
<text x="944.5" y="1081.5" text-anchor="middle" font-family="'Liberation Sans', Arial, Helvetica, sans-serif" font-size="66" fill="#2b2b2b" stroke="#2b2b2b" stroke-width="1.4" textLength="69.01" lengthAdjust="spacingAndGlyphs">20</text>
<path d="M1036.2 976.4V998.4" stroke="#2a2a2a" stroke-width="8.5"/>
<text x="1038.5" y="1081.5" text-anchor="middle" font-family="'Liberation Sans', Arial, Helvetica, sans-serif" font-size="66" fill="#2b2b2b" stroke="#2b2b2b" stroke-width="1.4" textLength="69.01" lengthAdjust="spacingAndGlyphs">30</text>
<path d="M1150.2 976.4V998.4" stroke="#2a2a2a" stroke-width="8.5"/>
<text x="1155.6" y="1081.5" text-anchor="middle" font-family="'Liberation Sans', Arial, Helvetica, sans-serif" font-size="66" fill="#2b2b2b" stroke="#2b2b2b" stroke-width="1.4" textLength="34.5" lengthAdjust="spacingAndGlyphs">0</text>
<path d="M1259.5 976.4V998.4" stroke="#2a2a2a" stroke-width="8.5"/>
<text x="1273.9" y="1081.5" text-anchor="middle" font-family="'Liberation Sans', Arial, Helvetica, sans-serif" font-size="66" fill="#2b2b2b" stroke="#2b2b2b" stroke-width="1.4" textLength="69.01" lengthAdjust="spacingAndGlyphs">10</text>
<path d="M1368.8 976.4V998.4" stroke="#2a2a2a" stroke-width="8.5"/>
<text x="1389.1" y="1081.5" text-anchor="middle" font-family="'Liberation Sans', Arial, Helvetica, sans-serif" font-size="66" fill="#2b2b2b" stroke="#2b2b2b" stroke-width="1.4" textLength="69.01" lengthAdjust="spacingAndGlyphs">20</text>
<path d="M1478.1 976.4V998.4" stroke="#2a2a2a" stroke-width="8.5"/>
<text x="1501.3" y="1081.5" text-anchor="middle" font-family="'Liberation Sans', Arial, Helvetica, sans-serif" font-size="66" fill="#2b2b2b" stroke="#2b2b2b" stroke-width="1.4" textLength="69.01" lengthAdjust="spacingAndGlyphs">30</text>
<path d="M1594.4 976.4V998.4" stroke="#2a2a2a" stroke-width="8.5"/>
<text x="1598.8" y="1081.5" text-anchor="middle" font-family="'Liberation Sans', Arial, Helvetica, sans-serif" font-size="66" fill="#2b2b2b" stroke="#2b2b2b" stroke-width="1.4" textLength="34.5" lengthAdjust="spacingAndGlyphs">0</text>
<path d="M1703.7 976.4V998.4" stroke="#2a2a2a" stroke-width="8.5"/>
<text x="1718.6" y="1081.5" text-anchor="middle" font-family="'Liberation Sans', Arial, Helvetica, sans-serif" font-size="66" fill="#2b2b2b" stroke="#2b2b2b" stroke-width="1.4" textLength="69.01" lengthAdjust="spacingAndGlyphs">10</text>
<path d="M1813 976.4V998.4" stroke="#2a2a2a" stroke-width="8.5"/>
<text x="1830.8" y="1081.5" text-anchor="middle" font-family="'Liberation Sans', Arial, Helvetica, sans-serif" font-size="66" fill="#2b2b2b" stroke="#2b2b2b" stroke-width="1.4" textLength="69.01" lengthAdjust="spacingAndGlyphs">20</text>
<path d="M1922.3 976.4V998.4" stroke="#2a2a2a" stroke-width="8.5"/>
<text x="1925.5" y="1081.5" text-anchor="middle" font-family="'Liberation Sans', Arial, Helvetica, sans-serif" font-size="66" fill="#2b2b2b" stroke="#2b2b2b" stroke-width="1.4" textLength="69.01" lengthAdjust="spacingAndGlyphs">30</text>
<text x="821" y="1202" font-family="'Liberation Sans', Arial, Helvetica, sans-serif" font-size="66" textLength="721" lengthAdjust="spacingAndGlyphs">Sample Count (36 per plot)</text>
<text transform="translate(74 1010) rotate(-90)" x="0" y="0" font-family="'Liberation Sans', Arial, Helvetica, sans-serif" font-size="62" textLength="764" lengthAdjust="spacingAndGlyphs">Proportion FP Aligned Reads</text>
<text x="223" y="1339.5" font-family="'Liberation Sans', Arial, Helvetica, sans-serif" font-size="73" stroke="#000" stroke-width="2.2" stroke-linejoin="round" letter-spacing="2.5">(B)</text>
<rect x="250.2" y="1373.3" width="428.8" height="132.7" fill="#D9D9D9"/>
<text x="462.5" y="1461.84" text-anchor="middle" font-family="'Liberation Sans', Arial, Helvetica, sans-serif" font-weight="bold" font-size="61" stroke="#E9E9E9" stroke-width="7" stroke-linejoin="round" paint-order="stroke">4PONT</text>
<rect x="693.1" y="1373.3" width="427.8" height="132.7" fill="#D9D9D9"/>
<text x="903" y="1461.84" text-anchor="middle" font-family="'Liberation Sans', Arial, Helvetica, sans-serif" font-weight="bold" font-size="61" stroke="#E9E9E9" stroke-width="7" stroke-linejoin="round" paint-order="stroke">4PSTD</text>
<rect x="1135.7" y="1373.3" width="426.5" height="132.7" fill="#D9D9D9"/>
<text x="1350" y="1461.84" text-anchor="middle" font-family="'Liberation Sans', Arial, Helvetica, sans-serif" font-weight="bold" font-size="61" stroke="#E9E9E9" stroke-width="7" stroke-linejoin="round" paint-order="stroke">LIGTN</text>
<rect x="1576.4" y="1373.3" width="429.4" height="132.7" fill="#D9D9D9"/>
<text x="1787" y="1461.84" text-anchor="middle" font-family="'Liberation Sans', Arial, Helvetica, sans-serif" font-weight="bold" font-size="61" stroke="#E9E9E9" stroke-width="7" stroke-linejoin="round" paint-order="stroke">NATBC</text>
<rect x="250.2" y="1508" width="428.8" height="348.3" fill="#EBEBEB"/>
<path d="M250.2 1776.94H679" stroke="#F8F8F8" stroke-width="6.5"/>
<path d="M250.2 1704.21H679" stroke="#F8F8F8" stroke-width="6.5"/>
<path d="M250.2 1631.49H679" stroke="#F8F8F8" stroke-width="6.5"/>
<path d="M250.2 1558.76H679" stroke="#F8F8F8" stroke-width="6.5"/>
<path d="M323.7 1508V1856.3" stroke="#F8F8F8" stroke-width="6.5"/>
<path d="M432.7 1508V1856.3" stroke="#F8F8F8" stroke-width="6.5"/>
<path d="M541.7 1508V1856.3" stroke="#F8F8F8" stroke-width="6.5"/>
<path d="M650.7 1508V1856.3" stroke="#F8F8F8" stroke-width="6.5"/>
<path d="M250.2 1813.3H679" stroke="#fff" stroke-width="8.5"/>
<path d="M250.2 1740.58H679" stroke="#fff" stroke-width="8.5"/>
<path d="M250.2 1667.85H679" stroke="#fff" stroke-width="8.5"/>
<path d="M250.2 1595.12H679" stroke="#fff" stroke-width="8.5"/>
<path d="M250.2 1522.4H679" stroke="#fff" stroke-width="8.5"/>
<path d="M269.2 1508V1856.3" stroke="#fff" stroke-width="8.5"/>
<path d="M378.2 1508V1856.3" stroke="#fff" stroke-width="8.5"/>
<path d="M487.2 1508V1856.3" stroke="#fff" stroke-width="8.5"/>
<path d="M596.2 1508V1856.3" stroke="#fff" stroke-width="8.5"/>
<path d="M269.2 1536.94V1827.85" stroke="#FAFAFA" stroke-width="34" stroke-linecap="square"/>
<rect x="269.2" y="1798.75" width="337.9" height="29.09" fill="none" stroke="#FAFAFA" stroke-width="34" stroke-linejoin="round"/>
<path d="M269.2 1536.94V1827.85" stroke="#041a04" stroke-width="8" stroke-linecap="square"/>
<rect x="269.2" y="1798.75" width="337.9" height="29.09" fill="#ACE2A9" stroke="#041a04" stroke-width="8" stroke-linejoin="round"/>
<rect x="693.1" y="1508" width="427.8" height="348.3" fill="#EBEBEB"/>
<path d="M693.1 1776.94H1120.9" stroke="#F8F8F8" stroke-width="6.5"/>
<path d="M693.1 1704.21H1120.9" stroke="#F8F8F8" stroke-width="6.5"/>
<path d="M693.1 1631.49H1120.9" stroke="#F8F8F8" stroke-width="6.5"/>
<path d="M693.1 1558.76H1120.9" stroke="#F8F8F8" stroke-width="6.5"/>
<path d="M764.5 1508V1856.3" stroke="#F8F8F8" stroke-width="6.5"/>
<path d="M873.5 1508V1856.3" stroke="#F8F8F8" stroke-width="6.5"/>
<path d="M982.5 1508V1856.3" stroke="#F8F8F8" stroke-width="6.5"/>
<path d="M1091.5 1508V1856.3" stroke="#F8F8F8" stroke-width="6.5"/>
<path d="M693.1 1813.3H1120.9" stroke="#fff" stroke-width="8.5"/>
<path d="M693.1 1740.58H1120.9" stroke="#fff" stroke-width="8.5"/>
<path d="M693.1 1667.85H1120.9" stroke="#fff" stroke-width="8.5"/>
<path d="M693.1 1595.12H1120.9" stroke="#fff" stroke-width="8.5"/>
<path d="M693.1 1522.4H1120.9" stroke="#fff" stroke-width="8.5"/>
<path d="M710 1508V1856.3" stroke="#fff" stroke-width="8.5"/>
<path d="M819 1508V1856.3" stroke="#fff" stroke-width="8.5"/>
<path d="M928 1508V1856.3" stroke="#fff" stroke-width="8.5"/>
<path d="M1037 1508V1856.3" stroke="#fff" stroke-width="8.5"/>
<path d="M710 1536.94V1827.85" stroke="#FAFAFA" stroke-width="34" stroke-linecap="square"/>
<rect x="710" y="1798.75" width="392.4" height="29.09" fill="none" stroke="#FAFAFA" stroke-width="34" stroke-linejoin="round"/>
<path d="M710 1536.94V1827.85" stroke="#0c0618" stroke-width="8" stroke-linecap="square"/>
<rect x="710" y="1798.75" width="392.4" height="29.09" fill="#E0D5F3" stroke="#0c0618" stroke-width="8" stroke-linejoin="round"/>
<rect x="1135.7" y="1508" width="426.5" height="348.3" fill="#EBEBEB"/>
<path d="M1135.7 1776.94H1562.2" stroke="#F8F8F8" stroke-width="6.5"/>
<path d="M1135.7 1704.21H1562.2" stroke="#F8F8F8" stroke-width="6.5"/>
<path d="M1135.7 1631.49H1562.2" stroke="#F8F8F8" stroke-width="6.5"/>
<path d="M1135.7 1558.76H1562.2" stroke="#F8F8F8" stroke-width="6.5"/>
<path d="M1206 1508V1856.3" stroke="#F8F8F8" stroke-width="6.5"/>
<path d="M1315 1508V1856.3" stroke="#F8F8F8" stroke-width="6.5"/>
<path d="M1424 1508V1856.3" stroke="#F8F8F8" stroke-width="6.5"/>
<path d="M1533 1508V1856.3" stroke="#F8F8F8" stroke-width="6.5"/>
<path d="M1135.7 1813.3H1562.2" stroke="#fff" stroke-width="8.5"/>
<path d="M1135.7 1740.58H1562.2" stroke="#fff" stroke-width="8.5"/>
<path d="M1135.7 1667.85H1562.2" stroke="#fff" stroke-width="8.5"/>
<path d="M1135.7 1595.12H1562.2" stroke="#fff" stroke-width="8.5"/>
<path d="M1135.7 1522.4H1562.2" stroke="#fff" stroke-width="8.5"/>
<path d="M1151.5 1508V1856.3" stroke="#fff" stroke-width="8.5"/>
<path d="M1260.5 1508V1856.3" stroke="#fff" stroke-width="8.5"/>
<path d="M1369.5 1508V1856.3" stroke="#fff" stroke-width="8.5"/>
<path d="M1478.5 1508V1856.3" stroke="#fff" stroke-width="8.5"/>
<path d="M1151.5 1536.94V1827.85" stroke="#FAFAFA" stroke-width="34" stroke-linecap="square"/>
<rect x="1151.5" y="1798.75" width="43.6" height="29.09" fill="none" stroke="#FAFAFA" stroke-width="34" stroke-linejoin="round"/>
<rect x="1151.5" y="1769.66" width="32.7" height="29.09" fill="none" stroke="#FAFAFA" stroke-width="34" stroke-linejoin="round"/>
<rect x="1151.5" y="1740.58" width="21.8" height="29.09" fill="none" stroke="#FAFAFA" stroke-width="34" stroke-linejoin="round"/>
<rect x="1151.5" y="1536.94" width="10.9" height="29.09" fill="none" stroke="#FAFAFA" stroke-width="34" stroke-linejoin="round"/>
<path d="M1151.5 1536.94V1827.85" stroke="#220a00" stroke-width="8" stroke-linecap="square"/>
<rect x="1151.5" y="1798.75" width="43.6" height="29.09" fill="#FCE5B8" stroke="#220a00" stroke-width="8" stroke-linejoin="round"/>
<rect x="1151.5" y="1769.66" width="32.7" height="29.09" fill="#FCE5B8" stroke="#220a00" stroke-width="8" stroke-linejoin="round"/>
<rect x="1151.5" y="1740.58" width="21.8" height="29.09" fill="#FCE5B8" stroke="#220a00" stroke-width="8" stroke-linejoin="round"/>
<rect x="1151.5" y="1536.94" width="10.9" height="29.09" fill="#220a00" stroke="#220a00" stroke-width="8" stroke-linejoin="round"/>
<rect x="1576.4" y="1508" width="429.4" height="348.3" fill="#EBEBEB"/>
<path d="M1576.4 1776.94H2005.8" stroke="#F8F8F8" stroke-width="6.5"/>
<path d="M1576.4 1704.21H2005.8" stroke="#F8F8F8" stroke-width="6.5"/>
<path d="M1576.4 1631.49H2005.8" stroke="#F8F8F8" stroke-width="6.5"/>
<path d="M1576.4 1558.76H2005.8" stroke="#F8F8F8" stroke-width="6.5"/>
<path d="M1649.1 1508V1856.3" stroke="#F8F8F8" stroke-width="6.5"/>
<path d="M1758.1 1508V1856.3" stroke="#F8F8F8" stroke-width="6.5"/>
<path d="M1867.1 1508V1856.3" stroke="#F8F8F8" stroke-width="6.5"/>
<path d="M1976.1 1508V1856.3" stroke="#F8F8F8" stroke-width="6.5"/>
<path d="M1576.4 1813.3H2005.8" stroke="#fff" stroke-width="8.5"/>
<path d="M1576.4 1740.58H2005.8" stroke="#fff" stroke-width="8.5"/>
<path d="M1576.4 1667.85H2005.8" stroke="#fff" stroke-width="8.5"/>
<path d="M1576.4 1595.12H2005.8" stroke="#fff" stroke-width="8.5"/>
<path d="M1576.4 1522.4H2005.8" stroke="#fff" stroke-width="8.5"/>
<path d="M1594.6 1508V1856.3" stroke="#fff" stroke-width="8.5"/>
<path d="M1703.6 1508V1856.3" stroke="#fff" stroke-width="8.5"/>
<path d="M1812.6 1508V1856.3" stroke="#fff" stroke-width="8.5"/>
<path d="M1921.6 1508V1856.3" stroke="#fff" stroke-width="8.5"/>
<path d="M1594.6 1536.94V1827.85" stroke="#FAFAFA" stroke-width="34" stroke-linecap="square"/>
<rect x="1594.6" y="1798.75" width="141.7" height="29.09" fill="none" stroke="#FAFAFA" stroke-width="34" stroke-linejoin="round"/>
<rect x="1594.6" y="1769.66" width="54.5" height="29.09" fill="none" stroke="#FAFAFA" stroke-width="34" stroke-linejoin="round"/>
<rect x="1594.6" y="1740.58" width="21.8" height="29.09" fill="none" stroke="#FAFAFA" stroke-width="34" stroke-linejoin="round"/>
<rect x="1594.6" y="1711.48" width="10.9" height="29.09" fill="none" stroke="#FAFAFA" stroke-width="34" stroke-linejoin="round"/>
<path d="M1594.6 1536.94V1827.85" stroke="#141402" stroke-width="8" stroke-linecap="square"/>
<rect x="1594.6" y="1798.75" width="141.7" height="29.09" fill="#FAFAC4" stroke="#141402" stroke-width="8" stroke-linejoin="round"/>
<rect x="1594.6" y="1769.66" width="54.5" height="29.09" fill="#FAFAC4" stroke="#141402" stroke-width="8" stroke-linejoin="round"/>
<rect x="1594.6" y="1740.58" width="21.8" height="29.09" fill="#FAFAC4" stroke="#141402" stroke-width="8" stroke-linejoin="round"/>
<rect x="1594.6" y="1711.48" width="10.9" height="29.09" fill="#141402" stroke="#141402" stroke-width="8" stroke-linejoin="round"/>
<rect x="2005.5" y="1508" width="132.5" height="348.3" fill="#D9D9D9"/>
<text transform="translate(2071.75 1682.15) rotate(90)" x="0" y="25.06" text-anchor="middle" font-family="'Liberation Sans', Arial, Helvetica, sans-serif" font-weight="bold" font-size="70" stroke="#E9E9E9" stroke-width="7" stroke-linejoin="round" paint-order="stroke">FL</text>
<path d="M227.7 1813.3H249.7" stroke="#2a2a2a" stroke-width="8.5"/>
<text x="213.5" y="1831.5" text-anchor="end" font-family="'Liberation Sans', Arial, Helvetica, sans-serif" font-size="52" fill="#2b2b2b" stroke="#2b2b2b" stroke-width="1.2" textLength="119.07" lengthAdjust="spacingAndGlyphs">0.000</text>
<path d="M227.7 1740.58H249.7" stroke="#2a2a2a" stroke-width="8.5"/>
<text x="213.5" y="1758.78" text-anchor="end" font-family="'Liberation Sans', Arial, Helvetica, sans-serif" font-size="52" fill="#2b2b2b" stroke="#2b2b2b" stroke-width="1.2" textLength="119.07" lengthAdjust="spacingAndGlyphs">0.025</text>
<path d="M227.7 1667.85H249.7" stroke="#2a2a2a" stroke-width="8.5"/>
<text x="213.5" y="1686.05" text-anchor="end" font-family="'Liberation Sans', Arial, Helvetica, sans-serif" font-size="52" fill="#2b2b2b" stroke="#2b2b2b" stroke-width="1.2" textLength="119.07" lengthAdjust="spacingAndGlyphs">0.050</text>
<path d="M227.7 1595.12H249.7" stroke="#2a2a2a" stroke-width="8.5"/>
<text x="213.5" y="1613.33" text-anchor="end" font-family="'Liberation Sans', Arial, Helvetica, sans-serif" font-size="52" fill="#2b2b2b" stroke="#2b2b2b" stroke-width="1.2" textLength="119.07" lengthAdjust="spacingAndGlyphs">0.075</text>
<path d="M227.7 1522.4H249.7" stroke="#2a2a2a" stroke-width="8.5"/>
<text x="213.5" y="1540.6" text-anchor="end" font-family="'Liberation Sans', Arial, Helvetica, sans-serif" font-size="52" fill="#2b2b2b" stroke="#2b2b2b" stroke-width="1.2" textLength="119.07" lengthAdjust="spacingAndGlyphs">0.100</text>
<rect x="250.2" y="1872.9" width="428.8" height="345.8" fill="#EBEBEB"/>
<path d="M250.2 2141.84H679" stroke="#F8F8F8" stroke-width="6.5"/>
<path d="M250.2 2069.11H679" stroke="#F8F8F8" stroke-width="6.5"/>
<path d="M250.2 1996.39H679" stroke="#F8F8F8" stroke-width="6.5"/>
<path d="M250.2 1923.66H679" stroke="#F8F8F8" stroke-width="6.5"/>
<path d="M323.7 1872.9V2218.7" stroke="#F8F8F8" stroke-width="6.5"/>
<path d="M432.7 1872.9V2218.7" stroke="#F8F8F8" stroke-width="6.5"/>
<path d="M541.7 1872.9V2218.7" stroke="#F8F8F8" stroke-width="6.5"/>
<path d="M650.7 1872.9V2218.7" stroke="#F8F8F8" stroke-width="6.5"/>
<path d="M250.2 2178.2H679" stroke="#fff" stroke-width="8.5"/>
<path d="M250.2 2105.48H679" stroke="#fff" stroke-width="8.5"/>
<path d="M250.2 2032.75H679" stroke="#fff" stroke-width="8.5"/>
<path d="M250.2 1960.03H679" stroke="#fff" stroke-width="8.5"/>
<path d="M250.2 1887.3H679" stroke="#fff" stroke-width="8.5"/>
<path d="M269.2 1872.9V2218.7" stroke="#fff" stroke-width="8.5"/>
<path d="M378.2 1872.9V2218.7" stroke="#fff" stroke-width="8.5"/>
<path d="M487.2 1872.9V2218.7" stroke="#fff" stroke-width="8.5"/>
<path d="M596.2 1872.9V2218.7" stroke="#fff" stroke-width="8.5"/>
<path d="M269.2 1901.85V2192.75" stroke="#FAFAFA" stroke-width="34" stroke-linecap="square"/>
<rect x="269.2" y="2163.66" width="305.2" height="29.09" fill="none" stroke="#FAFAFA" stroke-width="34" stroke-linejoin="round"/>
<rect x="269.2" y="2134.57" width="10.9" height="29.09" fill="none" stroke="#FAFAFA" stroke-width="34" stroke-linejoin="round"/>
<path d="M269.2 1901.85V2192.75" stroke="#041a04" stroke-width="8" stroke-linecap="square"/>
<rect x="269.2" y="2163.66" width="305.2" height="29.09" fill="#ACE2A9" stroke="#041a04" stroke-width="8" stroke-linejoin="round"/>
<rect x="269.2" y="2134.57" width="10.9" height="29.09" fill="#041a04" stroke="#041a04" stroke-width="8" stroke-linejoin="round"/>
<rect x="693.1" y="1872.9" width="427.8" height="345.8" fill="#EBEBEB"/>
<path d="M693.1 2141.84H1120.9" stroke="#F8F8F8" stroke-width="6.5"/>
<path d="M693.1 2069.11H1120.9" stroke="#F8F8F8" stroke-width="6.5"/>
<path d="M693.1 1996.39H1120.9" stroke="#F8F8F8" stroke-width="6.5"/>
<path d="M693.1 1923.66H1120.9" stroke="#F8F8F8" stroke-width="6.5"/>
<path d="M764.5 1872.9V2218.7" stroke="#F8F8F8" stroke-width="6.5"/>
<path d="M873.5 1872.9V2218.7" stroke="#F8F8F8" stroke-width="6.5"/>
<path d="M982.5 1872.9V2218.7" stroke="#F8F8F8" stroke-width="6.5"/>
<path d="M1091.5 1872.9V2218.7" stroke="#F8F8F8" stroke-width="6.5"/>
<path d="M693.1 2178.2H1120.9" stroke="#fff" stroke-width="8.5"/>
<path d="M693.1 2105.48H1120.9" stroke="#fff" stroke-width="8.5"/>
<path d="M693.1 2032.75H1120.9" stroke="#fff" stroke-width="8.5"/>
<path d="M693.1 1960.03H1120.9" stroke="#fff" stroke-width="8.5"/>
<path d="M693.1 1887.3H1120.9" stroke="#fff" stroke-width="8.5"/>
<path d="M710 1872.9V2218.7" stroke="#fff" stroke-width="8.5"/>
<path d="M819 1872.9V2218.7" stroke="#fff" stroke-width="8.5"/>
<path d="M928 1872.9V2218.7" stroke="#fff" stroke-width="8.5"/>
<path d="M1037 1872.9V2218.7" stroke="#fff" stroke-width="8.5"/>
<path d="M710 1901.85V2192.75" stroke="#FAFAFA" stroke-width="34" stroke-linecap="square"/>
<rect x="710" y="2163.66" width="316.1" height="29.09" fill="none" stroke="#FAFAFA" stroke-width="34" stroke-linejoin="round"/>
<rect x="710" y="2105.48" width="10.9" height="29.09" fill="none" stroke="#FAFAFA" stroke-width="34" stroke-linejoin="round"/>
<rect x="710" y="2047.3" width="10.9" height="29.09" fill="none" stroke="#FAFAFA" stroke-width="34" stroke-linejoin="round"/>
<path d="M710 1901.85V2192.75" stroke="#0c0618" stroke-width="8" stroke-linecap="square"/>
<rect x="710" y="2163.66" width="316.1" height="29.09" fill="#E0D5F3" stroke="#0c0618" stroke-width="8" stroke-linejoin="round"/>
<rect x="710" y="2105.48" width="10.9" height="29.09" fill="#0c0618" stroke="#0c0618" stroke-width="8" stroke-linejoin="round"/>
<rect x="710" y="2047.3" width="10.9" height="29.09" fill="#0c0618" stroke="#0c0618" stroke-width="8" stroke-linejoin="round"/>
<rect x="1135.7" y="1872.9" width="426.5" height="345.8" fill="#EBEBEB"/>
<path d="M1135.7 2141.84H1562.2" stroke="#F8F8F8" stroke-width="6.5"/>
<path d="M1135.7 2069.11H1562.2" stroke="#F8F8F8" stroke-width="6.5"/>
<path d="M1135.7 1996.39H1562.2" stroke="#F8F8F8" stroke-width="6.5"/>
<path d="M1135.7 1923.66H1562.2" stroke="#F8F8F8" stroke-width="6.5"/>
<path d="M1206 1872.9V2218.7" stroke="#F8F8F8" stroke-width="6.5"/>
<path d="M1315 1872.9V2218.7" stroke="#F8F8F8" stroke-width="6.5"/>
<path d="M1424 1872.9V2218.7" stroke="#F8F8F8" stroke-width="6.5"/>
<path d="M1533 1872.9V2218.7" stroke="#F8F8F8" stroke-width="6.5"/>
<path d="M1135.7 2178.2H1562.2" stroke="#fff" stroke-width="8.5"/>
<path d="M1135.7 2105.48H1562.2" stroke="#fff" stroke-width="8.5"/>
<path d="M1135.7 2032.75H1562.2" stroke="#fff" stroke-width="8.5"/>
<path d="M1135.7 1960.03H1562.2" stroke="#fff" stroke-width="8.5"/>
<path d="M1135.7 1887.3H1562.2" stroke="#fff" stroke-width="8.5"/>
<path d="M1151.5 1872.9V2218.7" stroke="#fff" stroke-width="8.5"/>
<path d="M1260.5 1872.9V2218.7" stroke="#fff" stroke-width="8.5"/>
<path d="M1369.5 1872.9V2218.7" stroke="#fff" stroke-width="8.5"/>
<path d="M1478.5 1872.9V2218.7" stroke="#fff" stroke-width="8.5"/>
<path d="M1151.5 1901.85V2192.75" stroke="#FAFAFA" stroke-width="34" stroke-linecap="square"/>
<rect x="1151.5" y="2163.66" width="76.3" height="29.09" fill="none" stroke="#FAFAFA" stroke-width="34" stroke-linejoin="round"/>
<rect x="1151.5" y="2134.57" width="54.5" height="29.09" fill="none" stroke="#FAFAFA" stroke-width="34" stroke-linejoin="round"/>
<rect x="1151.5" y="2105.48" width="10.9" height="29.09" fill="none" stroke="#FAFAFA" stroke-width="34" stroke-linejoin="round"/>
<rect x="1151.5" y="2076.39" width="10.9" height="29.09" fill="none" stroke="#FAFAFA" stroke-width="34" stroke-linejoin="round"/>
<rect x="1151.5" y="2047.3" width="10.9" height="29.09" fill="none" stroke="#FAFAFA" stroke-width="34" stroke-linejoin="round"/>
<rect x="1151.5" y="2018.21" width="10.9" height="29.09" fill="none" stroke="#FAFAFA" stroke-width="34" stroke-linejoin="round"/>
<rect x="1151.5" y="1930.94" width="10.9" height="29.09" fill="none" stroke="#FAFAFA" stroke-width="34" stroke-linejoin="round"/>
<path d="M1151.5 1901.85V2192.75" stroke="#220a00" stroke-width="8" stroke-linecap="square"/>
<rect x="1151.5" y="2163.66" width="76.3" height="29.09" fill="#FCE5B8" stroke="#220a00" stroke-width="8" stroke-linejoin="round"/>
<rect x="1151.5" y="2134.57" width="54.5" height="29.09" fill="#FCE5B8" stroke="#220a00" stroke-width="8" stroke-linejoin="round"/>
<rect x="1151.5" y="2105.48" width="10.9" height="29.09" fill="#220a00" stroke="#220a00" stroke-width="8" stroke-linejoin="round"/>
<rect x="1151.5" y="2076.39" width="10.9" height="29.09" fill="#220a00" stroke="#220a00" stroke-width="8" stroke-linejoin="round"/>
<rect x="1151.5" y="2047.3" width="10.9" height="29.09" fill="#220a00" stroke="#220a00" stroke-width="8" stroke-linejoin="round"/>
<rect x="1151.5" y="2018.21" width="10.9" height="29.09" fill="#220a00" stroke="#220a00" stroke-width="8" stroke-linejoin="round"/>
<rect x="1151.5" y="1930.94" width="10.9" height="29.09" fill="#220a00" stroke="#220a00" stroke-width="8" stroke-linejoin="round"/>
<rect x="1576.4" y="1872.9" width="429.4" height="345.8" fill="#EBEBEB"/>
<path d="M1576.4 2141.84H2005.8" stroke="#F8F8F8" stroke-width="6.5"/>
<path d="M1576.4 2069.11H2005.8" stroke="#F8F8F8" stroke-width="6.5"/>
<path d="M1576.4 1996.39H2005.8" stroke="#F8F8F8" stroke-width="6.5"/>
<path d="M1576.4 1923.66H2005.8" stroke="#F8F8F8" stroke-width="6.5"/>
<path d="M1649.1 1872.9V2218.7" stroke="#F8F8F8" stroke-width="6.5"/>
<path d="M1758.1 1872.9V2218.7" stroke="#F8F8F8" stroke-width="6.5"/>
<path d="M1867.1 1872.9V2218.7" stroke="#F8F8F8" stroke-width="6.5"/>
<path d="M1976.1 1872.9V2218.7" stroke="#F8F8F8" stroke-width="6.5"/>
<path d="M1576.4 2178.2H2005.8" stroke="#fff" stroke-width="8.5"/>
<path d="M1576.4 2105.48H2005.8" stroke="#fff" stroke-width="8.5"/>
<path d="M1576.4 2032.75H2005.8" stroke="#fff" stroke-width="8.5"/>
<path d="M1576.4 1960.03H2005.8" stroke="#fff" stroke-width="8.5"/>
<path d="M1576.4 1887.3H2005.8" stroke="#fff" stroke-width="8.5"/>
<path d="M1594.6 1872.9V2218.7" stroke="#fff" stroke-width="8.5"/>
<path d="M1703.6 1872.9V2218.7" stroke="#fff" stroke-width="8.5"/>
<path d="M1812.6 1872.9V2218.7" stroke="#fff" stroke-width="8.5"/>
<path d="M1921.6 1872.9V2218.7" stroke="#fff" stroke-width="8.5"/>
<path d="M1594.6 1901.85V2192.75" stroke="#FAFAFA" stroke-width="34" stroke-linecap="square"/>
<rect x="1594.6" y="2163.66" width="316.1" height="29.09" fill="none" stroke="#FAFAFA" stroke-width="34" stroke-linejoin="round"/>
<rect x="1594.6" y="2134.57" width="10.9" height="29.09" fill="none" stroke="#FAFAFA" stroke-width="34" stroke-linejoin="round"/>
<path d="M1594.6 1901.85V2192.75" stroke="#141402" stroke-width="8" stroke-linecap="square"/>
<rect x="1594.6" y="2163.66" width="316.1" height="29.09" fill="#FAFAC4" stroke="#141402" stroke-width="8" stroke-linejoin="round"/>
<rect x="1594.6" y="2134.57" width="10.9" height="29.09" fill="#141402" stroke="#141402" stroke-width="8" stroke-linejoin="round"/>
<rect x="2005.5" y="1872.9" width="132.5" height="345.8" fill="#D9D9D9"/>
<text transform="translate(2071.75 2045.8) rotate(90)" x="0" y="25.06" text-anchor="middle" font-family="'Liberation Sans', Arial, Helvetica, sans-serif" font-weight="bold" font-size="70" stroke="#E9E9E9" stroke-width="7" stroke-linejoin="round" paint-order="stroke">R9</text>
<path d="M227.7 2178.2H249.7" stroke="#2a2a2a" stroke-width="8.5"/>
<text x="213.5" y="2196.4" text-anchor="end" font-family="'Liberation Sans', Arial, Helvetica, sans-serif" font-size="52" fill="#2b2b2b" stroke="#2b2b2b" stroke-width="1.2" textLength="119.07" lengthAdjust="spacingAndGlyphs">0.000</text>
<path d="M227.7 2105.48H249.7" stroke="#2a2a2a" stroke-width="8.5"/>
<text x="213.5" y="2123.68" text-anchor="end" font-family="'Liberation Sans', Arial, Helvetica, sans-serif" font-size="52" fill="#2b2b2b" stroke="#2b2b2b" stroke-width="1.2" textLength="119.07" lengthAdjust="spacingAndGlyphs">0.025</text>
<path d="M227.7 2032.75H249.7" stroke="#2a2a2a" stroke-width="8.5"/>
<text x="213.5" y="2050.95" text-anchor="end" font-family="'Liberation Sans', Arial, Helvetica, sans-serif" font-size="52" fill="#2b2b2b" stroke="#2b2b2b" stroke-width="1.2" textLength="119.07" lengthAdjust="spacingAndGlyphs">0.050</text>
<path d="M227.7 1960.03H249.7" stroke="#2a2a2a" stroke-width="8.5"/>
<text x="213.5" y="1978.23" text-anchor="end" font-family="'Liberation Sans', Arial, Helvetica, sans-serif" font-size="52" fill="#2b2b2b" stroke="#2b2b2b" stroke-width="1.2" textLength="119.07" lengthAdjust="spacingAndGlyphs">0.075</text>
<path d="M227.7 1887.3H249.7" stroke="#2a2a2a" stroke-width="8.5"/>
<text x="213.5" y="1905.5" text-anchor="end" font-family="'Liberation Sans', Arial, Helvetica, sans-serif" font-size="52" fill="#2b2b2b" stroke="#2b2b2b" stroke-width="1.2" textLength="119.07" lengthAdjust="spacingAndGlyphs">0.100</text>
<path d="M269.2 2219.2V2241.2" stroke="#2a2a2a" stroke-width="8.5"/>
<text x="269.4" y="2312.5" text-anchor="middle" font-family="'Liberation Sans', Arial, Helvetica, sans-serif" font-size="66" fill="#2b2b2b" stroke="#2b2b2b" stroke-width="1.4" textLength="34.5" lengthAdjust="spacingAndGlyphs">0</text>
<path d="M378.2 2219.2V2241.2" stroke="#2a2a2a" stroke-width="8.5"/>
<text x="368.7" y="2312.5" text-anchor="middle" font-family="'Liberation Sans', Arial, Helvetica, sans-serif" font-size="66" fill="#2b2b2b" stroke="#2b2b2b" stroke-width="1.4" textLength="69.01" lengthAdjust="spacingAndGlyphs">10</text>
<path d="M487.2 2219.2V2241.2" stroke="#2a2a2a" stroke-width="8.5"/>
<text x="481.7" y="2312.5" text-anchor="middle" font-family="'Liberation Sans', Arial, Helvetica, sans-serif" font-size="66" fill="#2b2b2b" stroke="#2b2b2b" stroke-width="1.4" textLength="69.01" lengthAdjust="spacingAndGlyphs">20</text>
<path d="M596.2 2219.2V2241.2" stroke="#2a2a2a" stroke-width="8.5"/>
<text x="596.1" y="2312.5" text-anchor="middle" font-family="'Liberation Sans', Arial, Helvetica, sans-serif" font-size="66" fill="#2b2b2b" stroke="#2b2b2b" stroke-width="1.4" textLength="69.01" lengthAdjust="spacingAndGlyphs">30</text>
<path d="M710 2219.2V2241.2" stroke="#2a2a2a" stroke-width="8.5"/>
<text x="711.1" y="2312.5" text-anchor="middle" font-family="'Liberation Sans', Arial, Helvetica, sans-serif" font-size="66" fill="#2b2b2b" stroke="#2b2b2b" stroke-width="1.4" textLength="34.5" lengthAdjust="spacingAndGlyphs">0</text>
<path d="M819 2219.2V2241.2" stroke="#2a2a2a" stroke-width="8.5"/>
<text x="830.9" y="2312.5" text-anchor="middle" font-family="'Liberation Sans', Arial, Helvetica, sans-serif" font-size="66" fill="#2b2b2b" stroke="#2b2b2b" stroke-width="1.4" textLength="69.01" lengthAdjust="spacingAndGlyphs">10</text>
<path d="M928 2219.2V2241.2" stroke="#2a2a2a" stroke-width="8.5"/>
<text x="946.1" y="2312.5" text-anchor="middle" font-family="'Liberation Sans', Arial, Helvetica, sans-serif" font-size="66" fill="#2b2b2b" stroke="#2b2b2b" stroke-width="1.4" textLength="69.01" lengthAdjust="spacingAndGlyphs">20</text>
<path d="M1037 2219.2V2241.2" stroke="#2a2a2a" stroke-width="8.5"/>
<text x="1039.3" y="2312.5" text-anchor="middle" font-family="'Liberation Sans', Arial, Helvetica, sans-serif" font-size="66" fill="#2b2b2b" stroke="#2b2b2b" stroke-width="1.4" textLength="69.01" lengthAdjust="spacingAndGlyphs">30</text>
<path d="M1151.5 2219.2V2241.2" stroke="#2a2a2a" stroke-width="8.5"/>
<text x="1155.6" y="2312.5" text-anchor="middle" font-family="'Liberation Sans', Arial, Helvetica, sans-serif" font-size="66" fill="#2b2b2b" stroke="#2b2b2b" stroke-width="1.4" textLength="34.5" lengthAdjust="spacingAndGlyphs">0</text>
<path d="M1260.5 2219.2V2241.2" stroke="#2a2a2a" stroke-width="8.5"/>
<text x="1274.7" y="2312.5" text-anchor="middle" font-family="'Liberation Sans', Arial, Helvetica, sans-serif" font-size="66" fill="#2b2b2b" stroke="#2b2b2b" stroke-width="1.4" textLength="69.01" lengthAdjust="spacingAndGlyphs">10</text>
<path d="M1369.5 2219.2V2241.2" stroke="#2a2a2a" stroke-width="8.5"/>
<text x="1389.1" y="2312.5" text-anchor="middle" font-family="'Liberation Sans', Arial, Helvetica, sans-serif" font-size="66" fill="#2b2b2b" stroke="#2b2b2b" stroke-width="1.4" textLength="69.01" lengthAdjust="spacingAndGlyphs">20</text>
<path d="M1478.5 2219.2V2241.2" stroke="#2a2a2a" stroke-width="8.5"/>
<text x="1501.3" y="2312.5" text-anchor="middle" font-family="'Liberation Sans', Arial, Helvetica, sans-serif" font-size="66" fill="#2b2b2b" stroke="#2b2b2b" stroke-width="1.4" textLength="69.01" lengthAdjust="spacingAndGlyphs">30</text>
<path d="M1594.6 2219.2V2241.2" stroke="#2a2a2a" stroke-width="8.5"/>
<text x="1598.8" y="2312.5" text-anchor="middle" font-family="'Liberation Sans', Arial, Helvetica, sans-serif" font-size="66" fill="#2b2b2b" stroke="#2b2b2b" stroke-width="1.4" textLength="34.5" lengthAdjust="spacingAndGlyphs">0</text>
<path d="M1703.6 2219.2V2241.2" stroke="#2a2a2a" stroke-width="8.5"/>
<text x="1718.6" y="2312.5" text-anchor="middle" font-family="'Liberation Sans', Arial, Helvetica, sans-serif" font-size="66" fill="#2b2b2b" stroke="#2b2b2b" stroke-width="1.4" textLength="69.01" lengthAdjust="spacingAndGlyphs">10</text>
<path d="M1812.6 2219.2V2241.2" stroke="#2a2a2a" stroke-width="8.5"/>
<text x="1831.5" y="2312.5" text-anchor="middle" font-family="'Liberation Sans', Arial, Helvetica, sans-serif" font-size="66" fill="#2b2b2b" stroke="#2b2b2b" stroke-width="1.4" textLength="69.01" lengthAdjust="spacingAndGlyphs">20</text>
<path d="M1921.6 2219.2V2241.2" stroke="#2a2a2a" stroke-width="8.5"/>
<text x="1927" y="2312.5" text-anchor="middle" font-family="'Liberation Sans', Arial, Helvetica, sans-serif" font-size="66" fill="#2b2b2b" stroke="#2b2b2b" stroke-width="1.4" textLength="69.01" lengthAdjust="spacingAndGlyphs">30</text>
<text x="821" y="2439.5" font-family="'Liberation Sans', Arial, Helvetica, sans-serif" font-size="66" textLength="721.4" lengthAdjust="spacingAndGlyphs">Sample Count (36 per plot)</text>
<text transform="translate(59 2250.8) rotate(-90)" x="0" y="0" font-family="'Liberation Sans', Arial, Helvetica, sans-serif" font-size="62" textLength="766.5" lengthAdjust="spacingAndGlyphs">Proportion FP Aligned Reads</text>
<text x="223" y="2522" font-family="'Liberation Sans', Arial, Helvetica, sans-serif" font-size="73" stroke="#000" stroke-width="2.2" stroke-linejoin="round" letter-spacing="2.5">(C)</text>
<rect x="248.2" y="2565.5" width="428.5" height="126.3" fill="#D9D9D9"/>
<text x="462.5" y="2658.34" text-anchor="middle" font-family="'Liberation Sans', Arial, Helvetica, sans-serif" font-weight="bold" font-size="61" stroke="#E9E9E9" stroke-width="7" stroke-linejoin="round" paint-order="stroke">4PONT</text>
<rect x="691.2" y="2565.5" width="427.7" height="126.3" fill="#D9D9D9"/>
<text x="903" y="2658.34" text-anchor="middle" font-family="'Liberation Sans', Arial, Helvetica, sans-serif" font-weight="bold" font-size="61" stroke="#E9E9E9" stroke-width="7" stroke-linejoin="round" paint-order="stroke">4PSTD</text>
<rect x="1135" y="2565.5" width="425.2" height="126.3" fill="#D9D9D9"/>
<text x="1350" y="2658.34" text-anchor="middle" font-family="'Liberation Sans', Arial, Helvetica, sans-serif" font-weight="bold" font-size="61" stroke="#E9E9E9" stroke-width="7" stroke-linejoin="round" paint-order="stroke">LIGTN</text>
<rect x="1573.7" y="2565.5" width="427.7" height="126.3" fill="#D9D9D9"/>
<text x="1787" y="2658.34" text-anchor="middle" font-family="'Liberation Sans', Arial, Helvetica, sans-serif" font-weight="bold" font-size="61" stroke="#E9E9E9" stroke-width="7" stroke-linejoin="round" paint-order="stroke">NATBC</text>
<rect x="248.2" y="2696.2" width="428.5" height="343.5" fill="#EBEBEB"/>
<path d="M248.2 2976.26H676.7" stroke="#F8F8F8" stroke-width="6.5"/>
<path d="M248.2 2904.39H676.7" stroke="#F8F8F8" stroke-width="6.5"/>
<path d="M248.2 2832.51H676.7" stroke="#F8F8F8" stroke-width="6.5"/>
<path d="M248.2 2760.64H676.7" stroke="#F8F8F8" stroke-width="6.5"/>
<path d="M332.74 2696.2V3039.7" stroke="#F8F8F8" stroke-width="6.5"/>
<path d="M463.62 2696.2V3039.7" stroke="#F8F8F8" stroke-width="6.5"/>
<path d="M594.5 2696.2V3039.7" stroke="#F8F8F8" stroke-width="6.5"/>
<path d="M248.2 3012.2H676.7" stroke="#fff" stroke-width="8.5"/>
<path d="M248.2 2940.32H676.7" stroke="#fff" stroke-width="8.5"/>
<path d="M248.2 2868.45H676.7" stroke="#fff" stroke-width="8.5"/>
<path d="M248.2 2796.57H676.7" stroke="#fff" stroke-width="8.5"/>
<path d="M248.2 2724.7H676.7" stroke="#fff" stroke-width="8.5"/>
<path d="M267.3 2696.2V3039.7" stroke="#fff" stroke-width="8.5"/>
<path d="M398.18 2696.2V3039.7" stroke="#fff" stroke-width="8.5"/>
<path d="M529.06 2696.2V3039.7" stroke="#fff" stroke-width="8.5"/>
<path d="M659.94 2696.2V3039.7" stroke="#fff" stroke-width="8.5"/>
<path d="M267.3 2710.32V3026.57" stroke="#FAFAFA" stroke-width="34" stroke-linecap="square"/>
<rect x="267.3" y="2997.82" width="327.2" height="28.75" fill="none" stroke="#FAFAFA" stroke-width="34" stroke-linejoin="round"/>
<rect x="267.3" y="2710.32" width="65.44" height="28.75" fill="none" stroke="#FAFAFA" stroke-width="34" stroke-linejoin="round"/>
<path d="M267.3 2710.32V3026.57" stroke="#041a04" stroke-width="8" stroke-linecap="square"/>
<rect x="267.3" y="2997.82" width="327.2" height="28.75" fill="#ACE2A9" stroke="#041a04" stroke-width="8" stroke-linejoin="round"/>
<rect x="267.3" y="2710.32" width="65.44" height="28.75" fill="#ACE2A9" stroke="#041a04" stroke-width="8" stroke-linejoin="round"/>
<rect x="691.2" y="2696.2" width="427.7" height="343.5" fill="#EBEBEB"/>
<path d="M691.2 2976.26H1118.9" stroke="#F8F8F8" stroke-width="6.5"/>
<path d="M691.2 2904.39H1118.9" stroke="#F8F8F8" stroke-width="6.5"/>
<path d="M691.2 2832.51H1118.9" stroke="#F8F8F8" stroke-width="6.5"/>
<path d="M691.2 2760.64H1118.9" stroke="#F8F8F8" stroke-width="6.5"/>
<path d="M775.14 2696.2V3039.7" stroke="#F8F8F8" stroke-width="6.5"/>
<path d="M906.02 2696.2V3039.7" stroke="#F8F8F8" stroke-width="6.5"/>
<path d="M1036.9 2696.2V3039.7" stroke="#F8F8F8" stroke-width="6.5"/>
<path d="M691.2 3012.2H1118.9" stroke="#fff" stroke-width="8.5"/>
<path d="M691.2 2940.32H1118.9" stroke="#fff" stroke-width="8.5"/>
<path d="M691.2 2868.45H1118.9" stroke="#fff" stroke-width="8.5"/>
<path d="M691.2 2796.57H1118.9" stroke="#fff" stroke-width="8.5"/>
<path d="M691.2 2724.7H1118.9" stroke="#fff" stroke-width="8.5"/>
<path d="M709.7 2696.2V3039.7" stroke="#fff" stroke-width="8.5"/>
<path d="M840.58 2696.2V3039.7" stroke="#fff" stroke-width="8.5"/>
<path d="M971.46 2696.2V3039.7" stroke="#fff" stroke-width="8.5"/>
<path d="M1102.34 2696.2V3039.7" stroke="#fff" stroke-width="8.5"/>
<path d="M709.7 2710.32V3026.57" stroke="#FAFAFA" stroke-width="34" stroke-linecap="square"/>
<rect x="709.7" y="2997.82" width="392.64" height="28.75" fill="none" stroke="#FAFAFA" stroke-width="34" stroke-linejoin="round"/>
<path d="M709.7 2710.32V3026.57" stroke="#0c0618" stroke-width="8" stroke-linecap="square"/>
<rect x="709.7" y="2997.82" width="392.64" height="28.75" fill="#E0D5F3" stroke="#0c0618" stroke-width="8" stroke-linejoin="round"/>
<rect x="1135" y="2696.2" width="425.2" height="343.5" fill="#EBEBEB"/>
<path d="M1135 2976.26H1560.2" stroke="#F8F8F8" stroke-width="6.5"/>
<path d="M1135 2904.39H1560.2" stroke="#F8F8F8" stroke-width="6.5"/>
<path d="M1135 2832.51H1560.2" stroke="#F8F8F8" stroke-width="6.5"/>
<path d="M1135 2760.64H1560.2" stroke="#F8F8F8" stroke-width="6.5"/>
<path d="M1214.24 2696.2V3039.7" stroke="#F8F8F8" stroke-width="6.5"/>
<path d="M1345.12 2696.2V3039.7" stroke="#F8F8F8" stroke-width="6.5"/>
<path d="M1476 2696.2V3039.7" stroke="#F8F8F8" stroke-width="6.5"/>
<path d="M1135 3012.2H1560.2" stroke="#fff" stroke-width="8.5"/>
<path d="M1135 2940.32H1560.2" stroke="#fff" stroke-width="8.5"/>
<path d="M1135 2868.45H1560.2" stroke="#fff" stroke-width="8.5"/>
<path d="M1135 2796.57H1560.2" stroke="#fff" stroke-width="8.5"/>
<path d="M1135 2724.7H1560.2" stroke="#fff" stroke-width="8.5"/>
<path d="M1148.8 2696.2V3039.7" stroke="#fff" stroke-width="8.5"/>
<path d="M1279.68 2696.2V3039.7" stroke="#fff" stroke-width="8.5"/>
<path d="M1410.56 2696.2V3039.7" stroke="#fff" stroke-width="8.5"/>
<path d="M1541.44 2696.2V3039.7" stroke="#fff" stroke-width="8.5"/>
<path d="M1148.8 2710.32V3026.57" stroke="#FAFAFA" stroke-width="34" stroke-linecap="square"/>
<rect x="1148.8" y="2710.32" width="392.64" height="28.75" fill="none" stroke="#FAFAFA" stroke-width="34" stroke-linejoin="round"/>
<path d="M1148.8 2710.32V3026.57" stroke="#220a00" stroke-width="8" stroke-linecap="square"/>
<rect x="1148.8" y="2710.32" width="392.64" height="28.75" fill="#FCE5B8" stroke="#220a00" stroke-width="8" stroke-linejoin="round"/>
<rect x="1573.7" y="2696.2" width="427.7" height="343.5" fill="#EBEBEB"/>
<path d="M1573.7 2976.26H2001.4" stroke="#F8F8F8" stroke-width="6.5"/>
<path d="M1573.7 2904.39H2001.4" stroke="#F8F8F8" stroke-width="6.5"/>
<path d="M1573.7 2832.51H2001.4" stroke="#F8F8F8" stroke-width="6.5"/>
<path d="M1573.7 2760.64H2001.4" stroke="#F8F8F8" stroke-width="6.5"/>
<path d="M1655.84 2696.2V3039.7" stroke="#F8F8F8" stroke-width="6.5"/>
<path d="M1786.72 2696.2V3039.7" stroke="#F8F8F8" stroke-width="6.5"/>
<path d="M1917.6 2696.2V3039.7" stroke="#F8F8F8" stroke-width="6.5"/>
<path d="M1573.7 3012.2H2001.4" stroke="#fff" stroke-width="8.5"/>
<path d="M1573.7 2940.32H2001.4" stroke="#fff" stroke-width="8.5"/>
<path d="M1573.7 2868.45H2001.4" stroke="#fff" stroke-width="8.5"/>
<path d="M1573.7 2796.57H2001.4" stroke="#fff" stroke-width="8.5"/>
<path d="M1573.7 2724.7H2001.4" stroke="#fff" stroke-width="8.5"/>
<path d="M1590.4 2696.2V3039.7" stroke="#fff" stroke-width="8.5"/>
<path d="M1721.28 2696.2V3039.7" stroke="#fff" stroke-width="8.5"/>
<path d="M1852.16 2696.2V3039.7" stroke="#fff" stroke-width="8.5"/>
<path d="M1983.04 2696.2V3039.7" stroke="#fff" stroke-width="8.5"/>
<path d="M1590.4 2710.32V3026.57" stroke="#FAFAFA" stroke-width="34" stroke-linecap="square"/>
<rect x="1590.4" y="2997.82" width="98.16" height="28.75" fill="none" stroke="#FAFAFA" stroke-width="34" stroke-linejoin="round"/>
<rect x="1590.4" y="2710.32" width="294.48" height="28.75" fill="none" stroke="#FAFAFA" stroke-width="34" stroke-linejoin="round"/>
<path d="M1590.4 2710.32V3026.57" stroke="#141402" stroke-width="8" stroke-linecap="square"/>
<rect x="1590.4" y="2997.82" width="98.16" height="28.75" fill="#FAFAC4" stroke="#141402" stroke-width="8" stroke-linejoin="round"/>
<rect x="1590.4" y="2710.32" width="294.48" height="28.75" fill="#FAFAC4" stroke="#141402" stroke-width="8" stroke-linejoin="round"/>
<rect x="2004.5" y="2696.2" width="128" height="343.5" fill="#D9D9D9"/>
<text transform="translate(2068.5 2867.95) rotate(90)" x="0" y="25.06" text-anchor="middle" font-family="'Liberation Sans', Arial, Helvetica, sans-serif" font-weight="bold" font-size="70" stroke="#E9E9E9" stroke-width="7" stroke-linejoin="round" paint-order="stroke">FL</text>
<path d="M225.7 3012.2H247.7" stroke="#2a2a2a" stroke-width="8.5"/>
<text x="212" y="3030.4" text-anchor="end" font-family="'Liberation Sans', Arial, Helvetica, sans-serif" font-size="52" fill="#2b2b2b" stroke="#2b2b2b" stroke-width="1.2" textLength="92.61" lengthAdjust="spacingAndGlyphs">0.00</text>
<path d="M225.7 2940.32H247.7" stroke="#2a2a2a" stroke-width="8.5"/>
<text x="212" y="2958.52" text-anchor="end" font-family="'Liberation Sans', Arial, Helvetica, sans-serif" font-size="52" fill="#2b2b2b" stroke="#2b2b2b" stroke-width="1.2" textLength="92.61" lengthAdjust="spacingAndGlyphs">0.25</text>
<path d="M225.7 2868.45H247.7" stroke="#2a2a2a" stroke-width="8.5"/>
<text x="212" y="2886.65" text-anchor="end" font-family="'Liberation Sans', Arial, Helvetica, sans-serif" font-size="52" fill="#2b2b2b" stroke="#2b2b2b" stroke-width="1.2" textLength="92.61" lengthAdjust="spacingAndGlyphs">0.50</text>
<path d="M225.7 2796.57H247.7" stroke="#2a2a2a" stroke-width="8.5"/>
<text x="212" y="2814.77" text-anchor="end" font-family="'Liberation Sans', Arial, Helvetica, sans-serif" font-size="52" fill="#2b2b2b" stroke="#2b2b2b" stroke-width="1.2" textLength="92.61" lengthAdjust="spacingAndGlyphs">0.75</text>
<path d="M225.7 2724.7H247.7" stroke="#2a2a2a" stroke-width="8.5"/>
<text x="212" y="2742.9" text-anchor="end" font-family="'Liberation Sans', Arial, Helvetica, sans-serif" font-size="52" fill="#2b2b2b" stroke="#2b2b2b" stroke-width="1.2" textLength="92.61" lengthAdjust="spacingAndGlyphs">1.00</text>
<rect x="248.2" y="3056.4" width="428.5" height="341.3" fill="#EBEBEB"/>
<path d="M248.2 3336.46H676.7" stroke="#F8F8F8" stroke-width="6.5"/>
<path d="M248.2 3264.59H676.7" stroke="#F8F8F8" stroke-width="6.5"/>
<path d="M248.2 3192.71H676.7" stroke="#F8F8F8" stroke-width="6.5"/>
<path d="M248.2 3120.84H676.7" stroke="#F8F8F8" stroke-width="6.5"/>
<path d="M332.74 3056.4V3397.7" stroke="#F8F8F8" stroke-width="6.5"/>
<path d="M463.62 3056.4V3397.7" stroke="#F8F8F8" stroke-width="6.5"/>
<path d="M594.5 3056.4V3397.7" stroke="#F8F8F8" stroke-width="6.5"/>
<path d="M248.2 3372.4H676.7" stroke="#fff" stroke-width="8.5"/>
<path d="M248.2 3300.53H676.7" stroke="#fff" stroke-width="8.5"/>
<path d="M248.2 3228.65H676.7" stroke="#fff" stroke-width="8.5"/>
<path d="M248.2 3156.78H676.7" stroke="#fff" stroke-width="8.5"/>
<path d="M248.2 3084.9H676.7" stroke="#fff" stroke-width="8.5"/>
<path d="M267.3 3056.4V3397.7" stroke="#fff" stroke-width="8.5"/>
<path d="M398.18 3056.4V3397.7" stroke="#fff" stroke-width="8.5"/>
<path d="M529.06 3056.4V3397.7" stroke="#fff" stroke-width="8.5"/>
<path d="M659.94 3056.4V3397.7" stroke="#fff" stroke-width="8.5"/>
<path d="M267.3 3070.53V3386.78" stroke="#FAFAFA" stroke-width="34" stroke-linecap="square"/>
<rect x="267.3" y="3358.03" width="98.16" height="28.75" fill="none" stroke="#FAFAFA" stroke-width="34" stroke-linejoin="round"/>
<rect x="267.3" y="3070.53" width="294.48" height="28.75" fill="none" stroke="#FAFAFA" stroke-width="34" stroke-linejoin="round"/>
<path d="M267.3 3070.53V3386.78" stroke="#041a04" stroke-width="8" stroke-linecap="square"/>
<rect x="267.3" y="3358.03" width="98.16" height="28.75" fill="#ACE2A9" stroke="#041a04" stroke-width="8" stroke-linejoin="round"/>
<rect x="267.3" y="3070.53" width="294.48" height="28.75" fill="#ACE2A9" stroke="#041a04" stroke-width="8" stroke-linejoin="round"/>
<rect x="691.2" y="3056.4" width="427.7" height="341.3" fill="#EBEBEB"/>
<path d="M691.2 3336.46H1118.9" stroke="#F8F8F8" stroke-width="6.5"/>
<path d="M691.2 3264.59H1118.9" stroke="#F8F8F8" stroke-width="6.5"/>
<path d="M691.2 3192.71H1118.9" stroke="#F8F8F8" stroke-width="6.5"/>
<path d="M691.2 3120.84H1118.9" stroke="#F8F8F8" stroke-width="6.5"/>
<path d="M775.14 3056.4V3397.7" stroke="#F8F8F8" stroke-width="6.5"/>
<path d="M906.02 3056.4V3397.7" stroke="#F8F8F8" stroke-width="6.5"/>
<path d="M1036.9 3056.4V3397.7" stroke="#F8F8F8" stroke-width="6.5"/>
<path d="M691.2 3372.4H1118.9" stroke="#fff" stroke-width="8.5"/>
<path d="M691.2 3300.53H1118.9" stroke="#fff" stroke-width="8.5"/>
<path d="M691.2 3228.65H1118.9" stroke="#fff" stroke-width="8.5"/>
<path d="M691.2 3156.78H1118.9" stroke="#fff" stroke-width="8.5"/>
<path d="M691.2 3084.9H1118.9" stroke="#fff" stroke-width="8.5"/>
<path d="M709.7 3056.4V3397.7" stroke="#fff" stroke-width="8.5"/>
<path d="M840.58 3056.4V3397.7" stroke="#fff" stroke-width="8.5"/>
<path d="M971.46 3056.4V3397.7" stroke="#fff" stroke-width="8.5"/>
<path d="M1102.34 3056.4V3397.7" stroke="#fff" stroke-width="8.5"/>
<path d="M709.7 3070.53V3386.78" stroke="#FAFAFA" stroke-width="34" stroke-linecap="square"/>
<rect x="709.7" y="3358.03" width="261.76" height="28.75" fill="none" stroke="#FAFAFA" stroke-width="34" stroke-linejoin="round"/>
<rect x="709.7" y="3070.53" width="130.88" height="28.75" fill="none" stroke="#FAFAFA" stroke-width="34" stroke-linejoin="round"/>
<path d="M709.7 3070.53V3386.78" stroke="#0c0618" stroke-width="8" stroke-linecap="square"/>
<rect x="709.7" y="3358.03" width="261.76" height="28.75" fill="#E0D5F3" stroke="#0c0618" stroke-width="8" stroke-linejoin="round"/>
<rect x="709.7" y="3070.53" width="130.88" height="28.75" fill="#E0D5F3" stroke="#0c0618" stroke-width="8" stroke-linejoin="round"/>
<rect x="1135" y="3056.4" width="425.2" height="341.3" fill="#EBEBEB"/>
<path d="M1135 3336.46H1560.2" stroke="#F8F8F8" stroke-width="6.5"/>
<path d="M1135 3264.59H1560.2" stroke="#F8F8F8" stroke-width="6.5"/>
<path d="M1135 3192.71H1560.2" stroke="#F8F8F8" stroke-width="6.5"/>
<path d="M1135 3120.84H1560.2" stroke="#F8F8F8" stroke-width="6.5"/>
<path d="M1214.24 3056.4V3397.7" stroke="#F8F8F8" stroke-width="6.5"/>
<path d="M1345.12 3056.4V3397.7" stroke="#F8F8F8" stroke-width="6.5"/>
<path d="M1476 3056.4V3397.7" stroke="#F8F8F8" stroke-width="6.5"/>
<path d="M1135 3372.4H1560.2" stroke="#fff" stroke-width="8.5"/>
<path d="M1135 3300.53H1560.2" stroke="#fff" stroke-width="8.5"/>
<path d="M1135 3228.65H1560.2" stroke="#fff" stroke-width="8.5"/>
<path d="M1135 3156.78H1560.2" stroke="#fff" stroke-width="8.5"/>
<path d="M1135 3084.9H1560.2" stroke="#fff" stroke-width="8.5"/>
<path d="M1148.8 3056.4V3397.7" stroke="#fff" stroke-width="8.5"/>
<path d="M1279.68 3056.4V3397.7" stroke="#fff" stroke-width="8.5"/>
<path d="M1410.56 3056.4V3397.7" stroke="#fff" stroke-width="8.5"/>
<path d="M1541.44 3056.4V3397.7" stroke="#fff" stroke-width="8.5"/>
<path d="M1148.8 3070.53V3386.78" stroke="#FAFAFA" stroke-width="34" stroke-linecap="square"/>
<rect x="1148.8" y="3070.53" width="392.64" height="28.75" fill="none" stroke="#FAFAFA" stroke-width="34" stroke-linejoin="round"/>
<path d="M1148.8 3070.53V3386.78" stroke="#220a00" stroke-width="8" stroke-linecap="square"/>
<rect x="1148.8" y="3070.53" width="392.64" height="28.75" fill="#FCE5B8" stroke="#220a00" stroke-width="8" stroke-linejoin="round"/>
<rect x="1573.7" y="3056.4" width="427.7" height="341.3" fill="#EBEBEB"/>
<path d="M1573.7 3336.46H2001.4" stroke="#F8F8F8" stroke-width="6.5"/>
<path d="M1573.7 3264.59H2001.4" stroke="#F8F8F8" stroke-width="6.5"/>
<path d="M1573.7 3192.71H2001.4" stroke="#F8F8F8" stroke-width="6.5"/>
<path d="M1573.7 3120.84H2001.4" stroke="#F8F8F8" stroke-width="6.5"/>
<path d="M1655.84 3056.4V3397.7" stroke="#F8F8F8" stroke-width="6.5"/>
<path d="M1786.72 3056.4V3397.7" stroke="#F8F8F8" stroke-width="6.5"/>
<path d="M1917.6 3056.4V3397.7" stroke="#F8F8F8" stroke-width="6.5"/>
<path d="M1573.7 3372.4H2001.4" stroke="#fff" stroke-width="8.5"/>
<path d="M1573.7 3300.53H2001.4" stroke="#fff" stroke-width="8.5"/>
<path d="M1573.7 3228.65H2001.4" stroke="#fff" stroke-width="8.5"/>
<path d="M1573.7 3156.78H2001.4" stroke="#fff" stroke-width="8.5"/>
<path d="M1573.7 3084.9H2001.4" stroke="#fff" stroke-width="8.5"/>
<path d="M1590.4 3056.4V3397.7" stroke="#fff" stroke-width="8.5"/>
<path d="M1721.28 3056.4V3397.7" stroke="#fff" stroke-width="8.5"/>
<path d="M1852.16 3056.4V3397.7" stroke="#fff" stroke-width="8.5"/>
<path d="M1983.04 3056.4V3397.7" stroke="#fff" stroke-width="8.5"/>
<path d="M1590.4 3070.53V3386.78" stroke="#FAFAFA" stroke-width="34" stroke-linecap="square"/>
<rect x="1590.4" y="3070.53" width="392.64" height="28.75" fill="none" stroke="#FAFAFA" stroke-width="34" stroke-linejoin="round"/>
<path d="M1590.4 3070.53V3386.78" stroke="#141402" stroke-width="8" stroke-linecap="square"/>
<rect x="1590.4" y="3070.53" width="392.64" height="28.75" fill="#FAFAC4" stroke="#141402" stroke-width="8" stroke-linejoin="round"/>
<rect x="2004.5" y="3056.4" width="128" height="341.3" fill="#D9D9D9"/>
<text transform="translate(2068.5 3227.05) rotate(90)" x="0" y="25.06" text-anchor="middle" font-family="'Liberation Sans', Arial, Helvetica, sans-serif" font-weight="bold" font-size="70" stroke="#E9E9E9" stroke-width="7" stroke-linejoin="round" paint-order="stroke">R9</text>
<path d="M225.7 3372.4H247.7" stroke="#2a2a2a" stroke-width="8.5"/>
<text x="212" y="3390.6" text-anchor="end" font-family="'Liberation Sans', Arial, Helvetica, sans-serif" font-size="52" fill="#2b2b2b" stroke="#2b2b2b" stroke-width="1.2" textLength="92.61" lengthAdjust="spacingAndGlyphs">0.00</text>
<path d="M225.7 3300.53H247.7" stroke="#2a2a2a" stroke-width="8.5"/>
<text x="212" y="3318.72" text-anchor="end" font-family="'Liberation Sans', Arial, Helvetica, sans-serif" font-size="52" fill="#2b2b2b" stroke="#2b2b2b" stroke-width="1.2" textLength="92.61" lengthAdjust="spacingAndGlyphs">0.25</text>
<path d="M225.7 3228.65H247.7" stroke="#2a2a2a" stroke-width="8.5"/>
<text x="212" y="3246.85" text-anchor="end" font-family="'Liberation Sans', Arial, Helvetica, sans-serif" font-size="52" fill="#2b2b2b" stroke="#2b2b2b" stroke-width="1.2" textLength="92.61" lengthAdjust="spacingAndGlyphs">0.50</text>
<path d="M225.7 3156.78H247.7" stroke="#2a2a2a" stroke-width="8.5"/>
<text x="212" y="3174.97" text-anchor="end" font-family="'Liberation Sans', Arial, Helvetica, sans-serif" font-size="52" fill="#2b2b2b" stroke="#2b2b2b" stroke-width="1.2" textLength="92.61" lengthAdjust="spacingAndGlyphs">0.75</text>
<path d="M225.7 3084.9H247.7" stroke="#2a2a2a" stroke-width="8.5"/>
<text x="212" y="3103.1" text-anchor="end" font-family="'Liberation Sans', Arial, Helvetica, sans-serif" font-size="52" fill="#2b2b2b" stroke="#2b2b2b" stroke-width="1.2" textLength="92.61" lengthAdjust="spacingAndGlyphs">1.00</text>
<path d="M267.3 3398.2V3420.2" stroke="#2a2a2a" stroke-width="8.5"/>
<text x="269.4" y="3490" text-anchor="middle" font-family="'Liberation Sans', Arial, Helvetica, sans-serif" font-size="66" fill="#2b2b2b" stroke="#2b2b2b" stroke-width="1.4" textLength="34.5" lengthAdjust="spacingAndGlyphs">0</text>
<path d="M398.18 3398.2V3420.2" stroke="#2a2a2a" stroke-width="8.5"/>
<text x="399.8" y="3490" text-anchor="middle" font-family="'Liberation Sans', Arial, Helvetica, sans-serif" font-size="66" fill="#2b2b2b" stroke="#2b2b2b" stroke-width="1.4" textLength="34.5" lengthAdjust="spacingAndGlyphs">4</text>
<path d="M529.06 3398.2V3420.2" stroke="#2a2a2a" stroke-width="8.5"/>
<text x="528.7" y="3490" text-anchor="middle" font-family="'Liberation Sans', Arial, Helvetica, sans-serif" font-size="66" fill="#2b2b2b" stroke="#2b2b2b" stroke-width="1.4" textLength="34.5" lengthAdjust="spacingAndGlyphs">8</text>
<path d="M659.94 3398.2V3420.2" stroke="#2a2a2a" stroke-width="8.5"/>
<text x="635.6" y="3490" text-anchor="middle" font-family="'Liberation Sans', Arial, Helvetica, sans-serif" font-size="66" fill="#2b2b2b" stroke="#2b2b2b" stroke-width="1.4" textLength="69.01" lengthAdjust="spacingAndGlyphs">12</text>
<path d="M709.7 3398.2V3420.2" stroke="#2a2a2a" stroke-width="8.5"/>
<text x="708.5" y="3490" text-anchor="middle" font-family="'Liberation Sans', Arial, Helvetica, sans-serif" font-size="66" fill="#2b2b2b" stroke="#2b2b2b" stroke-width="1.4" textLength="34.5" lengthAdjust="spacingAndGlyphs">0</text>
<path d="M840.58 3398.2V3420.2" stroke="#2a2a2a" stroke-width="8.5"/>
<text x="846.5" y="3490" text-anchor="middle" font-family="'Liberation Sans', Arial, Helvetica, sans-serif" font-size="66" fill="#2b2b2b" stroke="#2b2b2b" stroke-width="1.4" textLength="34.5" lengthAdjust="spacingAndGlyphs">4</text>
<path d="M971.46 3398.2V3420.2" stroke="#2a2a2a" stroke-width="8.5"/>
<text x="967.8" y="3490" text-anchor="middle" font-family="'Liberation Sans', Arial, Helvetica, sans-serif" font-size="66" fill="#2b2b2b" stroke="#2b2b2b" stroke-width="1.4" textLength="34.5" lengthAdjust="spacingAndGlyphs">8</text>
<path d="M1102.34 3398.2V3420.2" stroke="#2a2a2a" stroke-width="8.5"/>
<text x="1087.2" y="3490" text-anchor="middle" font-family="'Liberation Sans', Arial, Helvetica, sans-serif" font-size="66" fill="#2b2b2b" stroke="#2b2b2b" stroke-width="1.4" textLength="69.01" lengthAdjust="spacingAndGlyphs">12</text>
<path d="M1148.8 3398.2V3420.2" stroke="#2a2a2a" stroke-width="8.5"/>
<text x="1162.2" y="3490" text-anchor="middle" font-family="'Liberation Sans', Arial, Helvetica, sans-serif" font-size="66" fill="#2b2b2b" stroke="#2b2b2b" stroke-width="1.4" textLength="34.5" lengthAdjust="spacingAndGlyphs">0</text>
<path d="M1279.68 3398.2V3420.2" stroke="#2a2a2a" stroke-width="8.5"/>
<text x="1275.9" y="3490" text-anchor="middle" font-family="'Liberation Sans', Arial, Helvetica, sans-serif" font-size="66" fill="#2b2b2b" stroke="#2b2b2b" stroke-width="1.4" textLength="34.5" lengthAdjust="spacingAndGlyphs">4</text>
<path d="M1410.56 3398.2V3420.2" stroke="#2a2a2a" stroke-width="8.5"/>
<text x="1410" y="3490" text-anchor="middle" font-family="'Liberation Sans', Arial, Helvetica, sans-serif" font-size="66" fill="#2b2b2b" stroke="#2b2b2b" stroke-width="1.4" textLength="34.5" lengthAdjust="spacingAndGlyphs">8</text>
<path d="M1541.44 3398.2V3420.2" stroke="#2a2a2a" stroke-width="8.5"/>
<text x="1530.6" y="3490" text-anchor="middle" font-family="'Liberation Sans', Arial, Helvetica, sans-serif" font-size="66" fill="#2b2b2b" stroke="#2b2b2b" stroke-width="1.4" textLength="69.01" lengthAdjust="spacingAndGlyphs">12</text>
<path d="M1590.4 3398.2V3420.2" stroke="#2a2a2a" stroke-width="8.5"/>
<text x="1603" y="3490" text-anchor="middle" font-family="'Liberation Sans', Arial, Helvetica, sans-serif" font-size="66" fill="#2b2b2b" stroke="#2b2b2b" stroke-width="1.4" textLength="34.5" lengthAdjust="spacingAndGlyphs">0</text>
<path d="M1721.28 3398.2V3420.2" stroke="#2a2a2a" stroke-width="8.5"/>
<text x="1721.3" y="3490" text-anchor="middle" font-family="'Liberation Sans', Arial, Helvetica, sans-serif" font-size="66" fill="#2b2b2b" stroke="#2b2b2b" stroke-width="1.4" textLength="34.5" lengthAdjust="spacingAndGlyphs">4</text>
<path d="M1852.16 3398.2V3420.2" stroke="#2a2a2a" stroke-width="8.5"/>
<text x="1862.3" y="3490" text-anchor="middle" font-family="'Liberation Sans', Arial, Helvetica, sans-serif" font-size="66" fill="#2b2b2b" stroke="#2b2b2b" stroke-width="1.4" textLength="34.5" lengthAdjust="spacingAndGlyphs">8</text>
<path d="M1983.04 3398.2V3420.2" stroke="#2a2a2a" stroke-width="8.5"/>
<text x="1960.8" y="3490" text-anchor="middle" font-family="'Liberation Sans', Arial, Helvetica, sans-serif" font-size="66" fill="#2b2b2b" stroke="#2b2b2b" stroke-width="1.4" textLength="69.01" lengthAdjust="spacingAndGlyphs">12</text>
<text x="821.7" y="3608.5" font-family="'Liberation Sans', Arial, Helvetica, sans-serif" font-size="66" textLength="625.6" lengthAdjust="spacingAndGlyphs">NTC Count (12 per plot)</text>
<text transform="translate(77 3439) rotate(-90)" x="0" y="0" font-family="'Liberation Sans', Arial, Helvetica, sans-serif" font-size="62" textLength="764.7" lengthAdjust="spacingAndGlyphs">Proportion FP Aligned Reads</text>
</svg>
</body></html>
